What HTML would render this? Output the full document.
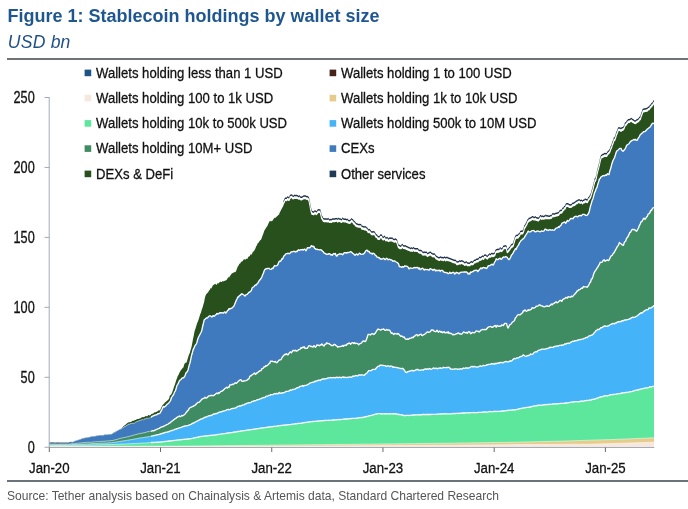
<!DOCTYPE html>
<html><head><meta charset="utf-8"><title>Figure 1: Stablecoin holdings by wallet size</title>
<style>
html,body{margin:0;padding:0;background:#fff;}
body{width:688px;height:509px;position:relative;overflow:hidden;font-family:"Liberation Sans",Arial,sans-serif;}
.title{position:absolute;left:7.4px;top:5px;font-size:18px;font-weight:bold;color:#1e5790;white-space:nowrap;line-height:22px;}
.sub{position:absolute;left:7.8px;top:31px;font-size:17.6px;letter-spacing:0.2px;font-style:italic;color:#1f4f86;white-space:nowrap;line-height:22px;}
.rule1{position:absolute;left:7px;right:0;top:58px;height:2px;background:#6f7378;}
.rule2{position:absolute;left:7px;right:0;top:480px;height:2px;background:#6a737c;}
.src{position:absolute;left:7px;top:487.5px;font-size:12.05px;color:#555;white-space:nowrap;line-height:16px;}
</style></head><body>
<svg width="688" height="509" viewBox="0 0 688 509" style="position:absolute;left:0;top:0">
<rect width="688" height="509" fill="#fff"/>
<path d="M49.0,443.2 L49.8,443.2 L50.6,443.2 L51.4,443.1 L52.2,443.2 L53.0,443.1 L53.8,443.2 L54.6,443.2 L55.4,443.2 L56.2,443.2 L57.0,443.3 L57.8,443.1 L58.6,443.2 L59.4,443.2 L60.2,443.2 L61.0,443.2 L61.8,443.2 L62.6,443.2 L63.4,443.2 L64.2,443.2 L65.0,443.2 L65.8,443.2 L66.6,443.2 L67.4,443.2 L68.2,443.3 L69.0,443.2 L69.8,442.9 L70.6,442.6 L71.4,442.3 L72.2,442.1 L73.0,441.7 L73.8,441.4 L74.6,441.1 L75.4,440.8 L76.2,440.5 L77.0,440.3 L77.8,440.0 L78.6,439.7 L79.4,439.6 L80.2,439.3 L81.0,439.0 L81.8,438.6 L82.6,438.3 L83.4,438.2 L84.2,438.0 L85.0,437.7 L85.8,437.6 L86.6,437.6 L87.4,437.4 L88.2,437.3 L89.0,437.1 L89.8,436.9 L90.6,436.6 L91.4,436.4 L92.2,436.3 L93.0,436.3 L93.8,436.2 L94.6,436.1 L95.4,435.9 L96.2,435.8 L97.0,435.5 L97.8,435.5 L98.6,435.4 L99.4,435.2 L100.2,435.2 L101.0,435.1 L101.8,435.1 L102.6,435.2 L103.4,435.1 L104.2,434.8 L105.0,434.6 L105.8,434.5 L106.6,434.5 L107.4,434.6 L108.2,434.5 L109.0,434.2 L109.8,434.1 L110.6,434.3 L111.4,434.0 L112.2,433.7 L113.0,433.1 L113.8,432.6 L114.6,432.2 L115.4,431.8 L116.2,431.3 L117.0,430.9 L117.8,430.3 L118.6,429.9 L119.4,429.4 L120.2,429.1 L121.0,428.7 L121.8,428.0 L122.6,427.2 L123.4,426.3 L124.2,425.8 L125.0,425.1 L125.8,424.4 L126.6,423.7 L127.4,423.0 L128.2,422.6 L129.0,422.2 L129.8,422.2 L130.6,421.9 L131.4,421.7 L132.2,421.0 L133.0,420.8 L133.8,420.8 L134.6,420.2 L135.4,419.9 L136.2,419.7 L137.0,419.1 L137.8,419.1 L138.6,419.1 L139.4,418.5 L140.2,418.4 L141.0,417.8 L141.8,417.6 L142.6,416.9 L143.4,417.2 L144.2,417.0 L145.0,416.6 L145.8,416.0 L146.6,416.2 L147.4,416.3 L148.2,415.1 L149.0,415.3 L149.8,415.4 L150.6,414.9 L151.4,413.9 L152.2,413.9 L153.0,413.5 L153.8,412.9 L154.6,412.2 L155.4,412.2 L156.2,412.1 L157.0,411.4 L157.8,411.2 L158.6,410.3 L159.4,410.4 L160.2,410.0 L161.0,408.2 L161.8,406.4 L162.6,405.0 L163.4,404.2 L164.2,403.5 L165.0,402.6 L165.8,401.7 L166.6,401.2 L167.4,400.4 L168.2,399.8 L169.0,398.7 L169.8,395.8 L170.6,394.9 L171.4,394.3 L172.2,392.2 L173.0,389.9 L173.8,387.5 L174.6,385.2 L175.4,383.1 L176.2,380.2 L177.0,378.2 L177.8,376.0 L178.6,374.7 L179.4,372.8 L180.2,371.4 L181.0,369.9 L181.8,369.2 L182.6,367.9 L183.4,367.5 L184.2,364.6 L185.0,363.1 L185.8,362.7 L186.6,362.5 L187.4,359.8 L188.2,357.1 L189.0,354.4 L189.8,352.9 L190.6,350.0 L191.4,347.4 L192.2,343.4 L193.0,339.0 L193.8,335.6 L194.6,331.1 L195.4,328.9 L196.2,326.3 L197.0,323.5 L197.8,321.8 L198.6,319.6 L199.4,317.1 L200.2,314.3 L201.0,312.4 L201.8,309.5 L202.6,307.4 L203.4,304.6 L204.2,301.7 L205.0,297.3 L205.8,295.0 L206.6,293.7 L207.4,293.0 L208.2,292.3 L209.0,290.5 L209.8,289.9 L210.6,288.1 L211.4,288.6 L212.2,286.8 L213.0,285.3 L213.8,284.7 L214.6,284.2 L215.4,283.8 L216.2,285.0 L217.0,284.2 L217.8,282.9 L218.6,283.5 L219.4,282.6 L220.2,281.5 L221.0,282.0 L221.8,281.9 L222.6,281.0 L223.4,281.4 L224.2,280.7 L225.0,281.0 L225.8,280.3 L226.6,279.9 L227.4,278.8 L228.2,276.9 L229.0,277.8 L229.8,276.2 L230.6,275.2 L231.4,274.0 L232.2,273.3 L233.0,272.9 L233.8,272.4 L234.6,272.0 L235.4,272.2 L236.2,270.7 L237.0,268.4 L237.8,266.6 L238.6,265.4 L239.4,263.7 L240.2,263.5 L241.0,262.1 L241.8,261.5 L242.6,261.2 L243.4,259.8 L244.2,259.2 L245.0,259.5 L245.8,259.4 L246.6,258.4 L247.4,259.0 L248.2,257.1 L249.0,256.5 L249.8,255.9 L250.6,254.3 L251.4,254.8 L252.2,253.6 L253.0,251.4 L253.8,251.5 L254.6,250.0 L255.4,248.4 L256.2,246.3 L257.0,245.2 L257.8,243.0 L258.6,242.7 L259.4,241.3 L260.2,240.3 L261.0,239.8 L261.8,237.7 L262.6,235.6 L263.4,233.5 L264.2,230.9 L265.0,229.5 L265.8,228.3 L266.6,227.0 L267.4,226.0 L268.2,223.9 L269.0,222.4 L269.8,220.8 L270.6,221.2 L271.4,220.1 L272.2,220.1 L273.0,218.5 L273.8,217.5 L274.6,217.0 L275.4,217.0 L276.2,216.1 L277.0,215.4 L277.8,214.6 L278.6,213.9 L279.4,211.6 L280.2,210.3 L281.0,208.6 L281.8,207.1 L282.6,205.8 L283.4,203.6 L284.2,202.1 L285.0,200.3 L285.8,200.4 L286.6,200.6 L287.4,199.5 L288.2,199.7 L289.0,200.4 L289.8,198.5 L290.6,197.9 L291.4,197.5 L292.2,197.7 L293.0,198.9 L293.8,198.5 L294.6,197.9 L295.4,198.3 L296.2,197.7 L297.0,198.4 L297.8,198.4 L298.6,199.1 L299.4,198.3 L300.2,199.5 L301.0,199.7 L301.8,199.7 L302.6,199.2 L303.4,198.6 L304.2,198.3 L305.0,198.6 L305.8,198.5 L306.6,199.2 L307.4,198.9 L308.2,199.8 L309.0,200.5 L309.8,204.1 L310.6,208.9 L311.4,212.3 L312.2,214.4 L313.0,214.3 L313.8,214.7 L314.6,213.6 L315.4,213.6 L316.2,214.5 L317.0,213.8 L317.8,212.5 L318.6,212.4 L319.4,212.4 L320.2,212.4 L321.0,215.1 L321.8,218.6 L322.6,219.7 L323.4,221.3 L324.2,221.5 L325.0,221.6 L325.8,221.5 L326.6,221.5 L327.4,221.8 L328.2,221.0 L329.0,222.0 L329.8,222.4 L330.6,222.0 L331.4,222.4 L332.2,221.6 L333.0,221.3 L333.8,221.6 L334.6,221.6 L335.4,221.4 L336.2,221.1 L337.0,221.1 L337.8,222.0 L338.6,220.7 L339.4,221.4 L340.2,221.5 L341.0,222.1 L341.8,222.3 L342.6,220.5 L343.4,221.4 L344.2,221.8 L345.0,221.9 L345.8,221.6 L346.6,222.3 L347.4,221.9 L348.2,223.1 L349.0,222.9 L349.8,223.3 L350.6,222.5 L351.4,221.2 L352.2,222.0 L353.0,222.5 L353.8,223.9 L354.6,224.3 L355.4,225.3 L356.2,226.4 L357.0,226.6 L357.8,226.9 L358.6,227.1 L359.4,226.9 L360.2,227.2 L361.0,227.0 L361.8,229.0 L362.6,228.8 L363.4,229.4 L364.2,229.0 L365.0,230.0 L365.8,229.1 L366.6,230.4 L367.4,230.7 L368.2,232.6 L369.0,231.8 L369.8,232.4 L370.6,233.2 L371.4,234.5 L372.2,234.4 L373.0,234.9 L373.8,234.0 L374.6,234.6 L375.4,236.0 L376.2,237.4 L377.0,237.5 L377.8,239.0 L378.6,239.3 L379.4,239.3 L380.2,237.6 L381.0,237.5 L381.8,237.8 L382.6,239.4 L383.4,239.9 L384.2,238.8 L385.0,239.3 L385.8,240.8 L386.6,240.4 L387.4,239.9 L388.2,241.5 L389.0,241.1 L389.8,240.6 L390.6,240.9 L391.4,240.8 L392.2,240.6 L393.0,241.5 L393.8,241.9 L394.6,242.0 L395.4,241.5 L396.2,242.1 L397.0,242.9 L397.8,245.4 L398.6,247.7 L399.4,248.0 L400.2,248.6 L401.0,248.6 L401.8,247.3 L402.6,246.9 L403.4,248.4 L404.2,248.3 L405.0,248.8 L405.8,248.4 L406.6,249.4 L407.4,249.2 L408.2,250.3 L409.0,249.8 L409.8,250.7 L410.6,251.0 L411.4,250.3 L412.2,251.3 L413.0,250.6 L413.8,250.4 L414.6,251.3 L415.4,251.1 L416.2,251.1 L417.0,251.4 L417.8,251.2 L418.6,252.5 L419.4,253.0 L420.2,253.0 L421.0,253.1 L421.8,253.6 L422.6,254.8 L423.4,255.0 L424.2,254.4 L425.0,255.0 L425.8,254.9 L426.6,254.9 L427.4,256.3 L428.2,255.8 L429.0,255.5 L429.8,254.6 L430.6,254.8 L431.4,255.8 L432.2,255.9 L433.0,256.9 L433.8,256.5 L434.6,256.6 L435.4,257.7 L436.2,258.9 L437.0,259.1 L437.8,259.7 L438.6,260.1 L439.4,260.4 L440.2,259.6 L441.0,259.6 L441.8,260.2 L442.6,260.0 L443.4,260.6 L444.2,259.7 L445.0,259.8 L445.8,260.8 L446.6,259.8 L447.4,260.0 L448.2,260.7 L449.0,260.4 L449.8,261.1 L450.6,261.2 L451.4,261.6 L452.2,262.0 L453.0,262.5 L453.8,262.4 L454.6,262.9 L455.4,262.8 L456.2,263.6 L457.0,264.7 L457.8,264.3 L458.6,264.2 L459.4,263.3 L460.2,264.0 L461.0,263.4 L461.8,263.2 L462.6,263.9 L463.4,264.1 L464.2,264.8 L465.0,265.4 L465.8,264.5 L466.6,264.5 L467.4,265.5 L468.2,265.6 L469.0,265.5 L469.8,265.7 L470.6,264.5 L471.4,264.4 L472.2,264.7 L473.0,264.5 L473.8,263.3 L474.6,262.7 L475.4,262.6 L476.2,262.0 L477.0,261.5 L477.8,261.8 L478.6,261.1 L479.4,259.8 L480.2,260.2 L481.0,259.9 L481.8,259.3 L482.6,258.4 L483.4,259.4 L484.2,257.9 L485.0,257.6 L485.8,257.5 L486.6,258.5 L487.4,259.0 L488.2,257.6 L489.0,257.4 L489.8,256.3 L490.6,257.1 L491.4,255.9 L492.2,256.0 L493.0,256.6 L493.8,256.0 L494.6,255.8 L495.4,253.3 L496.2,252.2 L497.0,252.4 L497.8,251.7 L498.6,252.1 L499.4,251.7 L500.2,249.9 L501.0,251.5 L501.8,251.2 L502.6,250.5 L503.4,248.8 L504.2,248.7 L505.0,248.2 L505.8,248.4 L506.6,249.0 L507.4,252.5 L508.2,251.8 L509.0,250.6 L509.8,249.6 L510.6,248.4 L511.4,247.3 L512.2,247.1 L513.0,246.4 L513.8,243.5 L514.6,240.7 L515.4,238.8 L516.2,238.2 L517.0,237.5 L517.8,238.1 L518.6,236.6 L519.4,236.1 L520.2,234.1 L521.0,233.9 L521.8,233.7 L522.6,233.7 L523.4,232.0 L524.2,228.8 L525.0,227.7 L525.8,226.2 L526.6,224.9 L527.4,222.7 L528.2,222.0 L529.0,220.7 L529.8,221.0 L530.6,220.2 L531.4,220.0 L532.2,219.2 L533.0,219.3 L533.8,219.9 L534.6,219.9 L535.4,219.1 L536.2,220.4 L537.0,220.3 L537.8,220.7 L538.6,220.7 L539.4,219.7 L540.2,218.3 L541.0,218.1 L541.8,219.3 L542.6,218.5 L543.4,219.1 L544.2,218.5 L545.0,218.8 L545.8,217.5 L546.6,218.5 L547.4,218.3 L548.2,218.7 L549.0,218.5 L549.8,218.6 L550.6,218.1 L551.4,218.2 L552.2,216.7 L553.0,216.0 L553.8,216.7 L554.6,216.4 L555.4,216.1 L556.2,215.8 L557.0,215.9 L557.8,215.2 L558.6,215.3 L559.4,213.8 L560.2,213.0 L561.0,213.0 L561.8,212.8 L562.6,210.9 L563.4,210.7 L564.2,209.1 L565.0,208.9 L565.8,206.8 L566.6,206.2 L567.4,206.2 L568.2,206.2 L569.0,207.2 L569.8,207.2 L570.6,207.4 L571.4,207.1 L572.2,206.2 L573.0,205.4 L573.8,205.7 L574.6,205.1 L575.4,204.6 L576.2,203.5 L577.0,203.7 L577.8,202.6 L578.6,202.5 L579.4,202.4 L580.2,203.2 L581.0,202.9 L581.8,202.8 L582.6,203.7 L583.4,202.7 L584.2,202.9 L585.0,201.5 L585.8,202.0 L586.6,202.3 L587.4,202.6 L588.2,200.6 L589.0,199.6 L589.8,198.6 L590.6,197.0 L591.4,194.2 L592.2,191.5 L593.0,188.8 L593.8,185.2 L594.6,181.8 L595.4,181.0 L596.2,178.3 L597.0,173.9 L597.8,170.9 L598.6,167.9 L599.4,164.5 L600.2,160.6 L601.0,158.1 L601.8,157.7 L602.6,157.1 L603.4,156.9 L604.2,156.4 L605.0,156.0 L605.8,156.3 L606.6,156.4 L607.4,154.7 L608.2,154.1 L609.0,153.3 L609.8,152.0 L610.6,149.5 L611.4,148.0 L612.2,145.1 L613.0,143.4 L613.8,140.9 L614.6,140.4 L615.4,138.2 L616.2,135.5 L617.0,133.8 L617.8,131.5 L618.6,130.2 L619.4,130.4 L620.2,130.5 L621.0,131.2 L621.8,130.3 L622.6,130.3 L623.4,129.7 L624.2,128.1 L625.0,125.6 L625.8,125.5 L626.6,124.0 L627.4,123.4 L628.2,122.2 L629.0,122.3 L629.8,122.0 L630.6,121.5 L631.4,121.0 L632.2,121.7 L633.0,122.4 L633.8,122.7 L634.6,123.4 L635.4,123.5 L636.2,123.1 L637.0,122.1 L637.8,122.1 L638.6,121.3 L639.4,120.0 L640.2,119.6 L641.0,116.8 L641.8,114.7 L642.6,112.2 L643.4,111.9 L644.2,111.8 L645.0,111.2 L645.8,111.4 L646.6,111.1 L647.4,110.9 L648.2,109.6 L649.0,109.7 L649.8,108.3 L650.6,107.8 L651.4,106.4 L652.2,105.9 L653.0,104.6 L653.8,103.3 L654.0,103.8 L654.0,447.0 L49.0,447.0 Z" fill="#27501c"/>
<path d="M270.6,221.2 L271.4,220.1 L272.2,220.1 L273.0,218.5 L273.8,217.5 L274.6,217.0 L275.4,217.0 L276.2,216.1 L277.0,215.4 L277.8,214.6 L278.6,213.9 L279.4,211.6 L280.2,210.3 L281.0,208.6 L281.8,207.1 L282.6,205.8 L283.4,203.6 L284.2,202.1 L285.0,200.3 L285.8,200.4 L286.6,200.6 L287.4,199.5 L288.2,199.7 L289.0,200.4 L289.8,198.5 L290.6,197.9 L291.4,197.5 L292.2,197.7 L293.0,198.9 L293.8,198.5 L294.6,197.9 L295.4,198.3 L296.2,197.7 L297.0,198.4 L297.8,198.4 L298.6,199.1 L299.4,198.3 L300.2,199.5 L301.0,199.7 L301.8,199.7 L302.6,199.2 L303.4,198.6 L304.2,198.3 L305.0,198.6 L305.8,198.5 L306.6,199.2 L307.4,198.9 L308.2,199.8 L309.0,200.5 L309.8,204.1 L310.6,208.9 L311.4,212.3 L312.2,214.4 L313.0,214.3 L313.8,214.7 L314.6,213.6 L315.4,213.6 L316.2,214.5 L317.0,213.8 L317.8,212.5 L318.6,212.4 L319.4,212.4 L320.2,212.4 L321.0,215.1 L321.8,218.6 L322.6,219.7 L323.4,221.3 L324.2,221.5 L325.0,221.6 L325.8,221.5 L326.6,221.5 L327.4,221.8 L328.2,221.0 L329.0,222.0 L329.8,222.4 L330.6,222.0 L331.4,222.4 L332.2,221.6 L333.0,221.3 L333.8,221.6 L334.6,221.6 L335.4,221.4 L336.2,221.1 L337.0,221.1 L337.8,222.0 L338.6,220.7 L339.4,221.4 L340.2,221.5 L341.0,222.1 L341.8,222.3 L342.6,220.5 L343.4,221.4 L344.2,221.8 L345.0,221.9 L345.8,221.6 L346.6,222.3 L347.4,221.9 L348.2,223.1 L349.0,222.9 L349.8,223.3 L350.6,222.5 L351.4,221.2 L352.2,222.0 L353.0,222.5 L353.8,223.9 L354.6,224.3 L355.4,225.3 L356.2,226.4 L357.0,226.6 L357.8,226.9 L358.6,227.1 L359.4,226.9 L360.2,227.2 L361.0,227.0 L361.8,229.0 L362.6,228.8 L363.4,229.4 L364.2,229.0 L365.0,230.0 L365.8,229.1 L366.6,230.4 L367.4,230.7 L368.2,232.6 L369.0,231.8 L369.8,232.4 L370.6,233.2 L371.4,234.5 L372.2,234.4 L373.0,234.9 L373.8,234.0 L374.6,234.6 L375.4,236.0 L376.2,237.4 L377.0,237.5 L377.8,239.0 L378.6,239.3 L379.4,239.3 L380.2,237.6 L381.0,237.5 L381.8,237.8 L382.6,239.4 L383.4,239.9 L384.2,238.8 L385.0,239.3 L385.8,240.8 L386.6,240.4 L387.4,239.9 L388.2,241.5 L389.0,241.1 L389.8,240.6 L390.6,240.9 L391.4,240.8 L392.2,240.6 L393.0,241.5 L393.8,241.9 L394.6,242.0 L395.4,241.5 L396.2,242.1 L397.0,242.9 L397.8,245.4 L398.6,247.7 L399.4,248.0 L400.2,248.6 L401.0,248.6 L401.8,247.3 L402.6,246.9 L403.4,248.4 L404.2,248.3 L405.0,248.8 L405.8,248.4 L406.6,249.4 L407.4,249.2 L408.2,250.3 L409.0,249.8 L409.8,250.7 L410.6,251.0 L411.4,250.3 L412.2,251.3 L413.0,250.6 L413.8,250.4 L414.6,251.3 L415.4,251.1 L416.2,251.1 L417.0,251.4 L417.8,251.2 L418.6,252.5 L419.4,253.0 L420.2,253.0 L421.0,253.1 L421.8,253.6 L422.6,254.8 L423.4,255.0 L424.2,254.4 L425.0,255.0 L425.8,254.9 L426.6,254.9 L427.4,256.3 L428.2,255.8 L429.0,255.5 L429.8,254.6 L430.6,254.8 L431.4,255.8 L432.2,255.9 L433.0,256.9 L433.8,256.5 L434.6,256.6 L435.4,257.7 L436.2,258.9 L437.0,259.1 L437.8,259.7 L438.6,260.1 L439.4,260.4 L440.2,259.6 L441.0,259.6 L441.8,260.2 L442.6,260.0 L443.4,260.6 L444.2,259.7 L445.0,259.8 L445.8,260.8 L446.6,259.8 L447.4,260.0 L448.2,260.7 L449.0,260.4 L449.8,261.1 L450.6,261.2 L451.4,261.6 L452.2,262.0 L453.0,262.5 L453.8,262.4 L454.6,262.9 L455.4,262.8 L456.2,263.6 L457.0,264.7 L457.8,264.3 L458.6,264.2 L459.4,263.3 L460.2,264.0 L461.0,263.4 L461.8,263.2 L462.6,263.9 L463.4,264.1 L464.2,264.8 L465.0,265.4 L465.8,264.5 L466.6,264.5 L467.4,265.5 L468.2,265.6 L469.0,265.5 L469.8,265.7 L470.6,264.5 L471.4,264.4 L472.2,264.7 L473.0,264.5 L473.8,263.3 L474.6,262.7 L475.4,262.6 L476.2,262.0 L477.0,261.5 L477.8,261.8 L478.6,261.1 L479.4,259.8 L480.2,260.2 L481.0,259.9 L481.8,259.3 L482.6,258.4 L483.4,259.4 L484.2,257.9 L485.0,257.6 L485.8,257.5 L486.6,258.5 L487.4,259.0 L488.2,257.6 L489.0,257.4 L489.8,256.3 L490.6,257.1 L491.4,255.9 L492.2,256.0 L493.0,256.6 L493.8,256.0 L494.6,255.8 L495.4,253.3 L496.2,252.2 L497.0,252.4 L497.8,251.7 L498.6,252.1 L499.4,251.7 L500.2,249.9 L501.0,251.5 L501.8,251.2 L502.6,250.5 L503.4,248.8 L504.2,248.7 L505.0,248.2 L505.8,248.4 L506.6,249.0 L507.4,252.5 L508.2,251.8 L509.0,250.6 L509.8,249.6 L510.6,248.4 L511.4,247.3 L512.2,247.1 L513.0,246.4 L513.8,243.5 L514.6,240.7 L515.4,238.8 L516.2,238.2 L517.0,237.5 L517.8,238.1 L518.6,236.6 L519.4,236.1 L520.2,234.1 L521.0,233.9 L521.8,233.7 L522.6,233.7 L523.4,232.0 L524.2,228.8 L525.0,227.7 L525.8,226.2 L526.6,224.9 L527.4,222.7 L528.2,222.0 L529.0,220.7 L529.8,221.0 L530.6,220.2 L531.4,220.0 L532.2,219.2 L533.0,219.3 L533.8,219.9 L534.6,219.9 L535.4,219.1 L536.2,220.4 L537.0,220.3 L537.8,220.7 L538.6,220.7 L539.4,219.7 L540.2,218.3 L541.0,218.1 L541.8,219.3 L542.6,218.5 L543.4,219.1 L544.2,218.5 L545.0,218.8 L545.8,217.5 L546.6,218.5 L547.4,218.3 L548.2,218.7 L549.0,218.5 L549.8,218.6 L550.6,218.1 L551.4,218.2 L552.2,216.7 L553.0,216.0 L553.8,216.7 L554.6,216.4 L555.4,216.1 L556.2,215.8 L557.0,215.9 L557.8,215.2 L558.6,215.3 L559.4,213.8 L560.2,213.0 L561.0,213.0 L561.8,212.8 L562.6,210.9 L563.4,210.7 L564.2,209.1 L565.0,208.9 L565.8,206.8 L566.6,206.2 L567.4,206.2 L568.2,206.2 L569.0,207.2 L569.8,207.2 L570.6,207.4 L571.4,207.1 L572.2,206.2 L573.0,205.4 L573.8,205.7 L574.6,205.1 L575.4,204.6 L576.2,203.5 L577.0,203.7 L577.8,202.6 L578.6,202.5 L579.4,202.4 L580.2,203.2 L581.0,202.9 L581.8,202.8 L582.6,203.7 L583.4,202.7 L584.2,202.9 L585.0,201.5 L585.8,202.0 L586.6,202.3 L587.4,202.6 L588.2,200.6 L589.0,199.6 L589.8,198.6 L590.6,197.0 L591.4,194.2 L592.2,191.5 L593.0,188.8 L593.8,185.2 L594.6,181.8 L595.4,181.0 L596.2,178.3 L597.0,173.9 L597.8,170.9 L598.6,167.9 L599.4,164.5 L600.2,160.6 L601.0,158.1 L601.8,157.7 L602.6,157.1 L603.4,156.9 L604.2,156.4 L605.0,156.0 L605.8,156.3 L606.6,156.4 L607.4,154.7 L608.2,154.1 L609.0,153.3 L609.8,152.0 L610.6,149.5 L611.4,148.0 L612.2,145.1 L613.0,143.4 L613.8,140.9 L614.6,140.4 L615.4,138.2 L616.2,135.5 L617.0,133.8 L617.8,131.5 L618.6,130.2 L619.4,130.4 L620.2,130.5 L621.0,131.2 L621.8,130.3 L622.6,130.3 L623.4,129.7 L624.2,128.1 L625.0,125.6 L625.8,125.5 L626.6,124.0 L627.4,123.4 L628.2,122.2 L629.0,122.3 L629.8,122.0 L630.6,121.5 L631.4,121.0 L632.2,121.7 L633.0,122.4 L633.8,122.7 L634.6,123.4 L635.4,123.5 L636.2,123.1 L637.0,122.1 L637.8,122.1 L638.6,121.3 L639.4,120.0 L640.2,119.6 L641.0,116.8 L641.8,114.7 L642.6,112.2 L643.4,111.9 L644.2,111.8 L645.0,111.2 L645.8,111.4 L646.6,111.1 L647.4,110.9 L648.2,109.6 L649.0,109.7 L649.8,108.3 L650.6,107.8 L651.4,106.4 L652.2,105.9 L653.0,104.6 L653.8,103.3 L654.0,103.8" fill="none" stroke="#fff" stroke-width="1.35" stroke-linejoin="round"/>
<path d="M49.0,443.2 L49.8,443.2 L50.6,443.2 L51.4,443.1 L52.2,443.2 L53.0,443.1 L53.8,443.2 L54.6,443.2 L55.4,443.2 L56.2,443.2 L57.0,443.3 L57.8,443.1 L58.6,443.2 L59.4,443.2 L60.2,443.2 L61.0,443.2 L61.8,443.2 L62.6,443.2 L63.4,443.2 L64.2,443.2 L65.0,443.2 L65.8,443.2 L66.6,443.2 L67.4,443.2 L68.2,443.3 L69.0,443.2 L69.8,442.9 L70.6,442.6 L71.4,442.3 L72.2,442.1 L73.0,441.7 L73.8,441.4 L74.6,441.1 L75.4,440.8 L76.2,440.5 L77.0,440.3 L77.8,440.0 L78.6,439.7 L79.4,439.6 L80.2,439.3 L81.0,439.0 L81.8,438.6 L82.6,438.3 L83.4,438.2 L84.2,438.0 L85.0,437.7 L85.8,437.6 L86.6,437.6 L87.4,437.4 L88.2,437.3 L89.0,437.1 L89.8,436.9 L90.6,436.6 L91.4,436.4 L92.2,436.3 L93.0,436.3 L93.8,436.2 L94.6,436.1 L95.4,435.9 L96.2,435.8 L97.0,435.5 L97.8,435.5 L98.6,435.4 L99.4,435.2 L100.2,435.2 L101.0,435.1 L101.8,435.1 L102.6,435.2 L103.4,435.1 L104.2,434.8 L105.0,434.6 L105.8,434.5 L106.6,434.5 L107.4,434.6 L108.2,434.5 L109.0,434.2 L109.8,434.1 L110.6,434.3 L111.4,434.0 L112.2,433.7 L113.0,433.1 L113.8,432.6 L114.6,432.2 L115.4,431.8 L116.2,431.3 L117.0,430.9 L117.8,430.3 L118.6,429.9 L119.4,429.5 L120.2,429.2 L121.0,428.9 L121.8,428.5 L122.6,427.9 L123.4,427.7 L124.2,426.7 L125.0,426.5 L125.8,426.1 L126.6,425.5 L127.4,425.3 L128.2,424.1 L129.0,424.3 L129.8,424.1 L130.6,423.5 L131.4,423.5 L132.2,423.1 L133.0,423.5 L133.8,423.3 L134.6,423.0 L135.4,422.3 L136.2,421.9 L137.0,421.6 L137.8,421.2 L138.6,420.8 L139.4,420.6 L140.2,420.4 L141.0,420.1 L141.8,419.8 L142.6,419.4 L143.4,420.1 L144.2,419.2 L145.0,418.7 L145.8,418.7 L146.6,418.3 L147.4,418.3 L148.2,418.2 L149.0,418.2 L149.8,417.9 L150.6,417.1 L151.4,417.1 L152.2,416.2 L153.0,416.0 L153.8,415.7 L154.6,415.1 L155.4,415.1 L156.2,414.7 L157.0,414.7 L157.8,413.7 L158.6,413.7 L159.4,413.5 L160.2,413.0 L161.0,411.1 L161.8,409.8 L162.6,407.9 L163.4,406.4 L164.2,407.1 L165.0,406.5 L165.8,405.9 L166.6,404.8 L167.4,404.1 L168.2,403.5 L169.0,402.7 L169.8,401.7 L170.6,400.5 L171.4,397.7 L172.2,396.7 L173.0,395.3 L173.8,394.1 L174.6,391.9 L175.4,390.9 L176.2,388.2 L177.0,385.4 L177.8,384.3 L178.6,382.6 L179.4,380.7 L180.2,380.0 L181.0,379.5 L181.8,378.4 L182.6,377.8 L183.4,377.9 L184.2,377.1 L185.0,375.9 L185.8,373.2 L186.6,372.3 L187.4,371.5 L188.2,369.4 L189.0,365.9 L189.8,363.5 L190.6,360.2 L191.4,356.1 L192.2,353.3 L193.0,350.1 L193.8,348.4 L194.6,346.4 L195.4,345.2 L196.2,344.1 L197.0,342.2 L197.8,339.0 L198.6,337.0 L199.4,335.5 L200.2,334.0 L201.0,332.5 L201.8,330.6 L202.6,326.5 L203.4,323.3 L204.2,319.9 L205.0,319.3 L205.8,318.5 L206.6,317.9 L207.4,317.9 L208.2,317.1 L209.0,316.1 L209.8,315.9 L210.6,315.9 L211.4,316.9 L212.2,316.9 L213.0,315.7 L213.8,316.0 L214.6,316.1 L215.4,314.9 L216.2,314.7 L217.0,313.4 L217.8,314.0 L218.6,313.7 L219.4,312.9 L220.2,312.7 L221.0,313.1 L221.8,312.7 L222.6,312.9 L223.4,313.1 L224.2,312.2 L225.0,311.9 L225.8,313.2 L226.6,312.2 L227.4,310.7 L228.2,310.1 L229.0,308.6 L229.8,309.1 L230.6,308.5 L231.4,308.4 L232.2,307.9 L233.0,307.0 L233.8,306.3 L234.6,304.5 L235.4,302.4 L236.2,300.4 L237.0,299.0 L237.8,296.9 L238.6,297.0 L239.4,295.5 L240.2,295.4 L241.0,294.4 L241.8,293.8 L242.6,294.1 L243.4,294.7 L244.2,295.2 L245.0,296.0 L245.8,294.9 L246.6,294.6 L247.4,294.2 L248.2,293.2 L249.0,292.3 L249.8,292.0 L250.6,291.3 L251.4,290.4 L252.2,287.8 L253.0,287.3 L253.8,286.8 L254.6,285.7 L255.4,284.9 L256.2,285.1 L257.0,283.8 L257.8,283.2 L258.6,281.6 L259.4,280.4 L260.2,279.6 L261.0,278.5 L261.8,277.1 L262.6,274.9 L263.4,273.3 L264.2,270.8 L265.0,269.3 L265.8,269.0 L266.6,268.7 L267.4,268.5 L268.2,268.3 L269.0,268.3 L269.8,269.0 L270.6,269.4 L271.4,269.1 L272.2,268.1 L273.0,268.6 L273.8,266.8 L274.6,265.5 L275.4,265.9 L276.2,265.8 L277.0,265.6 L277.8,264.8 L278.6,262.6 L279.4,261.2 L280.2,261.4 L281.0,260.8 L281.8,258.8 L282.6,259.0 L283.4,256.9 L284.2,255.6 L285.0,255.0 L285.8,253.9 L286.6,253.6 L287.4,253.5 L288.2,253.2 L289.0,253.7 L289.8,253.6 L290.6,252.4 L291.4,251.8 L292.2,251.9 L293.0,251.7 L293.8,251.2 L294.6,251.6 L295.4,252.0 L296.2,251.3 L297.0,251.7 L297.8,250.4 L298.6,249.7 L299.4,250.4 L300.2,250.0 L301.0,249.6 L301.8,249.8 L302.6,249.5 L303.4,250.0 L304.2,249.1 L305.0,249.2 L305.8,250.8 L306.6,249.8 L307.4,247.7 L308.2,247.9 L309.0,247.7 L309.8,247.9 L310.6,246.9 L311.4,245.7 L312.2,246.1 L313.0,246.7 L313.8,246.3 L314.6,248.3 L315.4,248.7 L316.2,249.5 L317.0,249.1 L317.8,249.6 L318.6,249.6 L319.4,249.8 L320.2,249.7 L321.0,249.8 L321.8,250.4 L322.6,251.3 L323.4,251.9 L324.2,253.2 L325.0,253.4 L325.8,253.8 L326.6,254.4 L327.4,254.2 L328.2,254.2 L329.0,253.6 L329.8,253.7 L330.6,254.8 L331.4,254.6 L332.2,255.3 L333.0,254.2 L333.8,253.4 L334.6,254.1 L335.4,253.5 L336.2,255.8 L337.0,256.1 L337.8,254.6 L338.6,254.3 L339.4,253.8 L340.2,254.0 L341.0,253.8 L341.8,254.2 L342.6,254.7 L343.4,253.8 L344.2,252.6 L345.0,252.9 L345.8,252.6 L346.6,253.1 L347.4,252.5 L348.2,252.7 L349.0,252.5 L349.8,252.0 L350.6,251.6 L351.4,252.0 L352.2,252.9 L353.0,253.5 L353.8,254.0 L354.6,255.1 L355.4,255.2 L356.2,254.0 L357.0,254.2 L357.8,255.0 L358.6,254.2 L359.4,253.1 L360.2,253.5 L361.0,254.4 L361.8,254.3 L362.6,254.1 L363.4,254.0 L364.2,253.2 L365.0,252.3 L365.8,250.8 L366.6,250.2 L367.4,250.5 L368.2,251.5 L369.0,251.3 L369.8,252.9 L370.6,253.2 L371.4,253.2 L372.2,254.2 L373.0,253.1 L373.8,253.5 L374.6,254.1 L375.4,255.5 L376.2,255.7 L377.0,257.2 L377.8,257.1 L378.6,257.8 L379.4,257.7 L380.2,259.0 L381.0,258.8 L381.8,259.2 L382.6,258.8 L383.4,258.3 L384.2,258.6 L385.0,259.7 L385.8,259.0 L386.6,258.3 L387.4,258.8 L388.2,259.8 L389.0,259.2 L389.8,259.3 L390.6,259.9 L391.4,259.9 L392.2,260.4 L393.0,261.2 L393.8,261.0 L394.6,260.9 L395.4,261.5 L396.2,262.0 L397.0,262.4 L397.8,263.1 L398.6,263.9 L399.4,266.7 L400.2,266.6 L401.0,266.9 L401.8,267.3 L402.6,266.5 L403.4,267.1 L404.2,266.7 L405.0,265.7 L405.8,266.2 L406.6,266.1 L407.4,266.5 L408.2,267.2 L409.0,268.9 L409.8,268.1 L410.6,267.9 L411.4,268.2 L412.2,268.3 L413.0,268.2 L413.8,267.6 L414.6,267.5 L415.4,267.8 L416.2,267.5 L417.0,267.6 L417.8,267.4 L418.6,268.8 L419.4,267.9 L420.2,269.6 L421.0,269.1 L421.8,268.5 L422.6,268.1 L423.4,269.2 L424.2,270.0 L425.0,269.2 L425.8,269.6 L426.6,269.6 L427.4,269.5 L428.2,269.8 L429.0,270.3 L429.8,269.0 L430.6,268.7 L431.4,269.2 L432.2,269.6 L433.0,270.4 L433.8,269.4 L434.6,269.3 L435.4,270.9 L436.2,270.1 L437.0,270.7 L437.8,270.4 L438.6,270.5 L439.4,270.1 L440.2,271.5 L441.0,270.3 L441.8,270.3 L442.6,270.4 L443.4,271.9 L444.2,272.2 L445.0,272.6 L445.8,272.5 L446.6,272.6 L447.4,272.9 L448.2,273.7 L449.0,273.4 L449.8,272.2 L450.6,273.2 L451.4,273.2 L452.2,272.4 L453.0,272.6 L453.8,272.3 L454.6,274.1 L455.4,273.5 L456.2,272.3 L457.0,272.9 L457.8,272.6 L458.6,273.7 L459.4,273.6 L460.2,272.3 L461.0,272.4 L461.8,272.1 L462.6,272.1 L463.4,272.1 L464.2,271.8 L465.0,272.2 L465.8,272.0 L466.6,271.9 L467.4,272.8 L468.2,274.1 L469.0,273.1 L469.8,274.1 L470.6,272.0 L471.4,272.4 L472.2,271.7 L473.0,271.6 L473.8,270.8 L474.6,270.5 L475.4,270.4 L476.2,270.2 L477.0,270.5 L477.8,271.6 L478.6,270.4 L479.4,269.9 L480.2,268.5 L481.0,267.9 L481.8,268.7 L482.6,267.8 L483.4,267.4 L484.2,267.6 L485.0,268.1 L485.8,267.8 L486.6,268.5 L487.4,267.4 L488.2,265.7 L489.0,265.8 L489.8,265.7 L490.6,264.9 L491.4,264.6 L492.2,264.1 L493.0,265.2 L493.8,264.1 L494.6,262.1 L495.4,261.1 L496.2,258.8 L497.0,259.4 L497.8,259.7 L498.6,258.9 L499.4,258.5 L500.2,258.2 L501.0,259.3 L501.8,259.0 L502.6,257.7 L503.4,256.9 L504.2,257.1 L505.0,257.1 L505.8,256.5 L506.6,257.0 L507.4,257.6 L508.2,259.0 L509.0,259.6 L509.8,258.7 L510.6,257.2 L511.4,255.1 L512.2,254.4 L513.0,253.1 L513.8,251.5 L514.6,250.4 L515.4,248.8 L516.2,249.3 L517.0,247.2 L517.8,246.1 L518.6,244.9 L519.4,242.9 L520.2,241.8 L521.0,240.6 L521.8,239.9 L522.6,239.1 L523.4,238.6 L524.2,237.9 L525.0,236.3 L525.8,235.0 L526.6,233.8 L527.4,232.5 L528.2,231.1 L529.0,231.9 L529.8,231.9 L530.6,231.9 L531.4,230.9 L532.2,230.7 L533.0,230.6 L533.8,230.5 L534.6,231.4 L535.4,231.9 L536.2,231.7 L537.0,230.9 L537.8,231.1 L538.6,231.2 L539.4,231.6 L540.2,231.8 L541.0,231.2 L541.8,231.0 L542.6,231.3 L543.4,231.2 L544.2,230.7 L545.0,229.1 L545.8,229.1 L546.6,230.0 L547.4,230.0 L548.2,230.5 L549.0,229.8 L549.8,229.7 L550.6,230.0 L551.4,230.1 L552.2,229.8 L553.0,230.1 L553.8,230.2 L554.6,230.1 L555.4,228.5 L556.2,228.1 L557.0,227.9 L557.8,227.7 L558.6,226.6 L559.4,227.2 L560.2,225.7 L561.0,225.3 L561.8,223.4 L562.6,222.8 L563.4,222.7 L564.2,221.9 L565.0,222.3 L565.8,223.3 L566.6,221.6 L567.4,220.4 L568.2,221.2 L569.0,220.7 L569.8,219.7 L570.6,218.4 L571.4,218.7 L572.2,218.4 L573.0,218.8 L573.8,217.4 L574.6,216.8 L575.4,216.4 L576.2,216.2 L577.0,216.8 L577.8,216.9 L578.6,216.0 L579.4,215.7 L580.2,215.4 L581.0,215.9 L581.8,215.4 L582.6,214.4 L583.4,214.3 L584.2,214.4 L585.0,214.9 L585.8,215.4 L586.6,215.5 L587.4,215.0 L588.2,214.0 L589.0,212.4 L589.8,209.1 L590.6,205.7 L591.4,203.1 L592.2,200.4 L593.0,198.7 L593.8,195.7 L594.6,192.6 L595.4,191.2 L596.2,188.6 L597.0,187.3 L597.8,184.2 L598.6,181.9 L599.4,179.0 L600.2,178.5 L601.0,176.9 L601.8,176.5 L602.6,175.9 L603.4,175.5 L604.2,175.9 L605.0,175.4 L605.8,174.9 L606.6,175.3 L607.4,173.7 L608.2,174.2 L609.0,174.6 L609.8,170.9 L610.6,168.8 L611.4,165.6 L612.2,162.7 L613.0,160.5 L613.8,159.0 L614.6,157.5 L615.4,154.9 L616.2,152.2 L617.0,150.8 L617.8,150.2 L618.6,149.7 L619.4,148.7 L620.2,148.3 L621.0,148.3 L621.8,150.3 L622.6,151.1 L623.4,151.0 L624.2,149.9 L625.0,149.1 L625.8,147.5 L626.6,145.5 L627.4,144.7 L628.2,144.2 L629.0,143.7 L629.8,142.5 L630.6,141.4 L631.4,140.9 L632.2,140.4 L633.0,140.1 L633.8,139.4 L634.6,139.9 L635.4,139.3 L636.2,140.3 L637.0,140.4 L637.8,138.9 L638.6,137.7 L639.4,136.6 L640.2,134.7 L641.0,134.1 L641.8,133.2 L642.6,133.0 L643.4,131.7 L644.2,131.6 L645.0,131.6 L645.8,130.6 L646.6,130.0 L647.4,128.9 L648.2,128.5 L649.0,127.8 L649.8,127.3 L650.6,126.3 L651.4,124.8 L652.2,123.6 L653.0,123.2 L653.8,123.3 L654.0,123.4 L654.0,447.0 L49.0,447.0 Z" fill="#3e7abd"/>
<path d="M49.0,443.2 L49.8,443.2 L50.6,443.2 L51.4,443.1 L52.2,443.2 L53.0,443.1 L53.8,443.2 L54.6,443.2 L55.4,443.2 L56.2,443.2 L57.0,443.3 L57.8,443.1 L58.6,443.2 L59.4,443.2 L60.2,443.2 L61.0,443.2 L61.8,443.2 L62.6,443.2 L63.4,443.2 L64.2,443.2 L65.0,443.2 L65.8,443.2 L66.6,443.2 L67.4,443.2 L68.2,443.3 L69.0,443.2 L69.8,442.9 L70.6,442.6 L71.4,442.3 L72.2,442.1 L73.0,441.7 L73.8,441.4 L74.6,441.1 L75.4,440.8 L76.2,440.5 L77.0,440.3 L77.8,440.0 L78.6,439.7 L79.4,439.6 L80.2,439.3 L81.0,439.0 L81.8,438.6 L82.6,438.3 L83.4,438.2 L84.2,438.0 L85.0,437.7 L85.8,437.6 L86.6,437.6 L87.4,437.4 L88.2,437.3 L89.0,437.1 L89.8,436.9 L90.6,436.6 L91.4,436.4 L92.2,436.3 L93.0,436.3 L93.8,436.2 L94.6,436.1 L95.4,435.9 L96.2,435.8 L97.0,435.5 L97.8,435.5 L98.6,435.4 L99.4,435.2 L100.2,435.2 L101.0,435.1 L101.8,435.1 L102.6,435.2 L103.4,435.1 L104.2,434.8 L105.0,434.6 L105.8,434.5 L106.6,434.5 L107.4,434.6 L108.2,434.5 L109.0,434.2 L109.8,434.1 L110.6,434.3 L111.4,434.0 L112.2,433.7 L113.0,433.1 L113.8,432.6 L114.6,432.2 L115.4,431.8 L116.2,431.3 L117.0,430.9 L117.8,430.3 L118.6,429.9 L119.4,429.5 L120.2,429.2 L121.0,428.9 L121.8,428.5 L122.6,427.9 L123.4,427.7 L124.2,426.7 L125.0,426.5 L125.8,426.1 L126.6,425.5 L127.4,425.3 L128.2,424.1 L129.0,424.3 L129.8,424.1 L130.6,423.5 L131.4,423.5 L132.2,423.1 L133.0,423.5 L133.8,423.3 L134.6,423.0 L135.4,422.3 L136.2,421.9 L137.0,421.6 L137.8,421.2 L138.6,420.8 L139.4,420.6 L140.2,420.4 L141.0,420.1 L141.8,419.8 L142.6,419.4 L143.4,420.1 L144.2,419.2 L145.0,418.7 L145.8,418.7 L146.6,418.3 L147.4,418.3 L148.2,418.2 L149.0,418.2 L149.8,417.9" fill="none" stroke="#fff" stroke-width="0.6" stroke-linejoin="round"/>
<path d="M150.6,417.1 L151.4,417.1 L152.2,416.2 L153.0,416.0 L153.8,415.7 L154.6,415.1 L155.4,415.1 L156.2,414.7 L157.0,414.7 L157.8,413.7 L158.6,413.7 L159.4,413.5 L160.2,413.0 L161.0,411.1 L161.8,409.8 L162.6,407.9 L163.4,406.4 L164.2,407.1 L165.0,406.5 L165.8,405.9 L166.6,404.8 L167.4,404.1 L168.2,403.5 L169.0,402.7 L169.8,401.7 L170.6,400.5 L171.4,397.7 L172.2,396.7 L173.0,395.3 L173.8,394.1 L174.6,391.9 L175.4,390.9 L176.2,388.2 L177.0,385.4 L177.8,384.3 L178.6,382.6 L179.4,380.7 L180.2,380.0 L181.0,379.5 L181.8,378.4 L182.6,377.8 L183.4,377.9 L184.2,377.1 L185.0,375.9 L185.8,373.2 L186.6,372.3 L187.4,371.5 L188.2,369.4 L189.0,365.9 L189.8,363.5 L190.6,360.2 L191.4,356.1 L192.2,353.3 L193.0,350.1 L193.8,348.4 L194.6,346.4 L195.4,345.2 L196.2,344.1 L197.0,342.2 L197.8,339.0 L198.6,337.0 L199.4,335.5 L200.2,334.0 L201.0,332.5 L201.8,330.6 L202.6,326.5 L203.4,323.3 L204.2,319.9 L205.0,319.3 L205.8,318.5 L206.6,317.9 L207.4,317.9 L208.2,317.1 L209.0,316.1 L209.8,315.9 L210.6,315.9 L211.4,316.9 L212.2,316.9 L213.0,315.7 L213.8,316.0 L214.6,316.1 L215.4,314.9 L216.2,314.7 L217.0,313.4 L217.8,314.0 L218.6,313.7 L219.4,312.9 L220.2,312.7 L221.0,313.1 L221.8,312.7 L222.6,312.9 L223.4,313.1 L224.2,312.2 L225.0,311.9 L225.8,313.2 L226.6,312.2 L227.4,310.7 L228.2,310.1 L229.0,308.6 L229.8,309.1 L230.6,308.5 L231.4,308.4 L232.2,307.9 L233.0,307.0 L233.8,306.3 L234.6,304.5 L235.4,302.4 L236.2,300.4 L237.0,299.0 L237.8,296.9 L238.6,297.0 L239.4,295.5 L240.2,295.4 L241.0,294.4 L241.8,293.8 L242.6,294.1 L243.4,294.7 L244.2,295.2 L245.0,296.0 L245.8,294.9 L246.6,294.6 L247.4,294.2 L248.2,293.2 L249.0,292.3 L249.8,292.0 L250.6,291.3 L251.4,290.4 L252.2,287.8 L253.0,287.3 L253.8,286.8 L254.6,285.7 L255.4,284.9 L256.2,285.1 L257.0,283.8 L257.8,283.2 L258.6,281.6 L259.4,280.4 L260.2,279.6 L261.0,278.5 L261.8,277.1 L262.6,274.9 L263.4,273.3 L264.2,270.8 L265.0,269.3 L265.8,269.0 L266.6,268.7 L267.4,268.5 L268.2,268.3 L269.0,268.3 L269.8,269.0 L270.6,269.4 L271.4,269.1 L272.2,268.1 L273.0,268.6 L273.8,266.8 L274.6,265.5 L275.4,265.9 L276.2,265.8 L277.0,265.6 L277.8,264.8 L278.6,262.6 L279.4,261.2 L280.2,261.4 L281.0,260.8 L281.8,258.8 L282.6,259.0 L283.4,256.9 L284.2,255.6 L285.0,255.0 L285.8,253.9 L286.6,253.6 L287.4,253.5 L288.2,253.2 L289.0,253.7 L289.8,253.6 L290.6,252.4 L291.4,251.8 L292.2,251.9 L293.0,251.7 L293.8,251.2 L294.6,251.6 L295.4,252.0 L296.2,251.3 L297.0,251.7 L297.8,250.4 L298.6,249.7 L299.4,250.4 L300.2,250.0 L301.0,249.6 L301.8,249.8 L302.6,249.5 L303.4,250.0 L304.2,249.1 L305.0,249.2 L305.8,250.8 L306.6,249.8 L307.4,247.7 L308.2,247.9 L309.0,247.7 L309.8,247.9 L310.6,246.9 L311.4,245.7 L312.2,246.1 L313.0,246.7 L313.8,246.3 L314.6,248.3 L315.4,248.7 L316.2,249.5 L317.0,249.1 L317.8,249.6 L318.6,249.6 L319.4,249.8 L320.2,249.7 L321.0,249.8 L321.8,250.4 L322.6,251.3 L323.4,251.9 L324.2,253.2 L325.0,253.4 L325.8,253.8 L326.6,254.4 L327.4,254.2 L328.2,254.2 L329.0,253.6 L329.8,253.7 L330.6,254.8 L331.4,254.6 L332.2,255.3 L333.0,254.2 L333.8,253.4 L334.6,254.1 L335.4,253.5 L336.2,255.8 L337.0,256.1 L337.8,254.6 L338.6,254.3 L339.4,253.8 L340.2,254.0 L341.0,253.8 L341.8,254.2 L342.6,254.7 L343.4,253.8 L344.2,252.6 L345.0,252.9 L345.8,252.6 L346.6,253.1 L347.4,252.5 L348.2,252.7 L349.0,252.5 L349.8,252.0 L350.6,251.6 L351.4,252.0 L352.2,252.9 L353.0,253.5 L353.8,254.0 L354.6,255.1 L355.4,255.2 L356.2,254.0 L357.0,254.2 L357.8,255.0 L358.6,254.2 L359.4,253.1 L360.2,253.5 L361.0,254.4 L361.8,254.3 L362.6,254.1 L363.4,254.0 L364.2,253.2 L365.0,252.3 L365.8,250.8 L366.6,250.2 L367.4,250.5 L368.2,251.5 L369.0,251.3 L369.8,252.9 L370.6,253.2 L371.4,253.2 L372.2,254.2 L373.0,253.1 L373.8,253.5 L374.6,254.1 L375.4,255.5 L376.2,255.7 L377.0,257.2 L377.8,257.1 L378.6,257.8 L379.4,257.7 L380.2,259.0 L381.0,258.8 L381.8,259.2 L382.6,258.8 L383.4,258.3 L384.2,258.6 L385.0,259.7 L385.8,259.0 L386.6,258.3 L387.4,258.8 L388.2,259.8 L389.0,259.2 L389.8,259.3 L390.6,259.9 L391.4,259.9 L392.2,260.4 L393.0,261.2 L393.8,261.0 L394.6,260.9 L395.4,261.5 L396.2,262.0 L397.0,262.4 L397.8,263.1 L398.6,263.9 L399.4,266.7 L400.2,266.6 L401.0,266.9 L401.8,267.3 L402.6,266.5 L403.4,267.1 L404.2,266.7 L405.0,265.7 L405.8,266.2 L406.6,266.1 L407.4,266.5 L408.2,267.2 L409.0,268.9 L409.8,268.1 L410.6,267.9 L411.4,268.2 L412.2,268.3 L413.0,268.2 L413.8,267.6 L414.6,267.5 L415.4,267.8 L416.2,267.5 L417.0,267.6 L417.8,267.4 L418.6,268.8 L419.4,267.9 L420.2,269.6 L421.0,269.1 L421.8,268.5 L422.6,268.1 L423.4,269.2 L424.2,270.0 L425.0,269.2 L425.8,269.6 L426.6,269.6 L427.4,269.5 L428.2,269.8 L429.0,270.3 L429.8,269.0 L430.6,268.7 L431.4,269.2 L432.2,269.6 L433.0,270.4 L433.8,269.4 L434.6,269.3 L435.4,270.9 L436.2,270.1 L437.0,270.7 L437.8,270.4 L438.6,270.5 L439.4,270.1 L440.2,271.5 L441.0,270.3 L441.8,270.3 L442.6,270.4 L443.4,271.9 L444.2,272.2 L445.0,272.6 L445.8,272.5 L446.6,272.6 L447.4,272.9 L448.2,273.7 L449.0,273.4 L449.8,272.2 L450.6,273.2 L451.4,273.2 L452.2,272.4 L453.0,272.6 L453.8,272.3 L454.6,274.1 L455.4,273.5 L456.2,272.3 L457.0,272.9 L457.8,272.6 L458.6,273.7 L459.4,273.6 L460.2,272.3 L461.0,272.4 L461.8,272.1 L462.6,272.1 L463.4,272.1 L464.2,271.8 L465.0,272.2 L465.8,272.0 L466.6,271.9 L467.4,272.8 L468.2,274.1 L469.0,273.1 L469.8,274.1 L470.6,272.0 L471.4,272.4 L472.2,271.7 L473.0,271.6 L473.8,270.8 L474.6,270.5 L475.4,270.4 L476.2,270.2 L477.0,270.5 L477.8,271.6 L478.6,270.4 L479.4,269.9 L480.2,268.5 L481.0,267.9 L481.8,268.7 L482.6,267.8 L483.4,267.4 L484.2,267.6 L485.0,268.1 L485.8,267.8 L486.6,268.5 L487.4,267.4 L488.2,265.7 L489.0,265.8 L489.8,265.7 L490.6,264.9 L491.4,264.6 L492.2,264.1 L493.0,265.2 L493.8,264.1 L494.6,262.1 L495.4,261.1 L496.2,258.8 L497.0,259.4 L497.8,259.7 L498.6,258.9 L499.4,258.5 L500.2,258.2 L501.0,259.3 L501.8,259.0 L502.6,257.7 L503.4,256.9 L504.2,257.1 L505.0,257.1 L505.8,256.5 L506.6,257.0 L507.4,257.6 L508.2,259.0 L509.0,259.6 L509.8,258.7 L510.6,257.2 L511.4,255.1 L512.2,254.4 L513.0,253.1 L513.8,251.5 L514.6,250.4 L515.4,248.8 L516.2,249.3 L517.0,247.2 L517.8,246.1 L518.6,244.9 L519.4,242.9 L520.2,241.8 L521.0,240.6 L521.8,239.9 L522.6,239.1 L523.4,238.6 L524.2,237.9 L525.0,236.3 L525.8,235.0 L526.6,233.8 L527.4,232.5 L528.2,231.1 L529.0,231.9 L529.8,231.9 L530.6,231.9 L531.4,230.9 L532.2,230.7 L533.0,230.6 L533.8,230.5 L534.6,231.4 L535.4,231.9 L536.2,231.7 L537.0,230.9 L537.8,231.1 L538.6,231.2 L539.4,231.6 L540.2,231.8 L541.0,231.2 L541.8,231.0 L542.6,231.3 L543.4,231.2 L544.2,230.7 L545.0,229.1 L545.8,229.1 L546.6,230.0 L547.4,230.0 L548.2,230.5 L549.0,229.8 L549.8,229.7 L550.6,230.0 L551.4,230.1 L552.2,229.8 L553.0,230.1 L553.8,230.2 L554.6,230.1 L555.4,228.5 L556.2,228.1 L557.0,227.9 L557.8,227.7 L558.6,226.6 L559.4,227.2 L560.2,225.7 L561.0,225.3 L561.8,223.4 L562.6,222.8 L563.4,222.7 L564.2,221.9 L565.0,222.3 L565.8,223.3 L566.6,221.6 L567.4,220.4 L568.2,221.2 L569.0,220.7 L569.8,219.7 L570.6,218.4 L571.4,218.7 L572.2,218.4 L573.0,218.8 L573.8,217.4 L574.6,216.8 L575.4,216.4 L576.2,216.2 L577.0,216.8 L577.8,216.9 L578.6,216.0 L579.4,215.7 L580.2,215.4 L581.0,215.9 L581.8,215.4 L582.6,214.4 L583.4,214.3 L584.2,214.4 L585.0,214.9 L585.8,215.4 L586.6,215.5 L587.4,215.0 L588.2,214.0 L589.0,212.4 L589.8,209.1 L590.6,205.7 L591.4,203.1 L592.2,200.4 L593.0,198.7 L593.8,195.7 L594.6,192.6 L595.4,191.2 L596.2,188.6 L597.0,187.3 L597.8,184.2 L598.6,181.9 L599.4,179.0 L600.2,178.5 L601.0,176.9 L601.8,176.5 L602.6,175.9 L603.4,175.5 L604.2,175.9 L605.0,175.4 L605.8,174.9 L606.6,175.3 L607.4,173.7 L608.2,174.2 L609.0,174.6 L609.8,170.9 L610.6,168.8 L611.4,165.6 L612.2,162.7 L613.0,160.5 L613.8,159.0 L614.6,157.5 L615.4,154.9 L616.2,152.2 L617.0,150.8 L617.8,150.2 L618.6,149.7 L619.4,148.7 L620.2,148.3 L621.0,148.3 L621.8,150.3 L622.6,151.1 L623.4,151.0 L624.2,149.9 L625.0,149.1 L625.8,147.5 L626.6,145.5 L627.4,144.7 L628.2,144.2 L629.0,143.7 L629.8,142.5 L630.6,141.4 L631.4,140.9 L632.2,140.4 L633.0,140.1 L633.8,139.4 L634.6,139.9 L635.4,139.3 L636.2,140.3 L637.0,140.4 L637.8,138.9 L638.6,137.7 L639.4,136.6 L640.2,134.7 L641.0,134.1 L641.8,133.2 L642.6,133.0 L643.4,131.7 L644.2,131.6 L645.0,131.6 L645.8,130.6 L646.6,130.0 L647.4,128.9 L648.2,128.5 L649.0,127.8 L649.8,127.3 L650.6,126.3 L651.4,124.8 L652.2,123.6 L653.0,123.2 L653.8,123.3 L654.0,123.4" fill="none" stroke="#fff" stroke-width="1.35" stroke-linejoin="round"/>
<path d="M49.0,444.3 L49.8,444.3 L50.6,444.3 L51.4,444.2 L52.2,444.2 L53.0,444.2 L53.8,444.2 L54.6,444.2 L55.4,444.2 L56.2,444.2 L57.0,444.2 L57.8,444.2 L58.6,444.2 L59.4,444.3 L60.2,444.2 L61.0,444.2 L61.8,444.2 L62.6,444.1 L63.4,444.2 L64.2,444.1 L65.0,444.1 L65.8,444.1 L66.6,444.1 L67.4,444.1 L68.2,444.1 L69.0,444.1 L69.8,444.0 L70.6,443.9 L71.4,443.8 L72.2,443.8 L73.0,443.7 L73.8,443.7 L74.6,443.6 L75.4,443.5 L76.2,443.4 L77.0,443.3 L77.8,443.2 L78.6,443.1 L79.4,443.1 L80.2,443.0 L81.0,442.9 L81.8,442.9 L82.6,442.8 L83.4,442.6 L84.2,442.6 L85.0,442.5 L85.8,442.5 L86.6,442.4 L87.4,442.3 L88.2,442.3 L89.0,442.3 L89.8,442.3 L90.6,442.3 L91.4,442.3 L92.2,442.2 L93.0,442.1 L93.8,442.0 L94.6,441.9 L95.4,441.8 L96.2,441.7 L97.0,441.7 L97.8,441.8 L98.6,441.7 L99.4,441.7 L100.2,441.5 L101.0,441.5 L101.8,441.4 L102.6,441.3 L103.4,441.3 L104.2,441.3 L105.0,441.1 L105.8,441.1 L106.6,441.0 L107.4,441.0 L108.2,441.0 L109.0,440.9 L109.8,440.8 L110.6,440.7 L111.4,440.5 L112.2,440.6 L113.0,440.3 L113.8,440.2 L114.6,440.0 L115.4,439.7 L116.2,439.6 L117.0,439.5 L117.8,439.2 L118.6,438.9 L119.4,438.6 L120.2,438.4 L121.0,438.2 L121.8,438.1 L122.6,437.8 L123.4,437.7 L124.2,437.5 L125.0,437.4 L125.8,437.3 L126.6,437.0 L127.4,436.8 L128.2,436.8 L129.0,436.6 L129.8,436.2 L130.6,436.0 L131.4,435.8 L132.2,435.7 L133.0,435.5 L133.8,435.1 L134.6,434.8 L135.4,434.7 L136.2,434.6 L137.0,434.3 L137.8,434.0 L138.6,433.8 L139.4,433.7 L140.2,433.4 L141.0,433.3 L141.8,433.3 L142.6,433.1 L143.4,432.8 L144.2,432.8 L145.0,432.5 L145.8,432.4 L146.6,432.1 L147.4,431.7 L148.2,431.7 L149.0,431.7 L149.8,431.5 L150.6,431.4 L151.4,431.1 L152.2,430.9 L153.0,430.7 L153.8,430.7 L154.6,430.5 L155.4,429.9 L156.2,429.7 L157.0,429.2 L157.8,428.8 L158.6,428.7 L159.4,428.2 L160.2,427.6 L161.0,427.2 L161.8,427.0 L162.6,426.7 L163.4,426.5 L164.2,425.9 L165.0,425.6 L165.8,425.2 L166.6,424.7 L167.4,424.4 L168.2,424.0 L169.0,423.2 L169.8,423.1 L170.6,422.1 L171.4,421.6 L172.2,421.0 L173.0,420.5 L173.8,419.7 L174.6,419.1 L175.4,418.5 L176.2,418.2 L177.0,417.3 L177.8,416.9 L178.6,416.6 L179.4,416.0 L180.2,416.8 L181.0,416.3 L181.8,415.5 L182.6,415.9 L183.4,415.2 L184.2,414.8 L185.0,414.2 L185.8,413.0 L186.6,412.0 L187.4,411.0 L188.2,410.2 L189.0,408.8 L189.8,407.9 L190.6,407.3 L191.4,407.2 L192.2,406.6 L193.0,406.3 L193.8,406.0 L194.6,405.3 L195.4,405.1 L196.2,404.0 L197.0,403.2 L197.8,402.5 L198.6,402.4 L199.4,402.2 L200.2,401.2 L201.0,400.3 L201.8,399.1 L202.6,398.8 L203.4,398.5 L204.2,398.1 L205.0,397.2 L205.8,398.1 L206.6,398.1 L207.4,397.2 L208.2,396.4 L209.0,395.9 L209.8,395.8 L210.6,395.5 L211.4,395.5 L212.2,395.5 L213.0,395.7 L213.8,395.5 L214.6,394.7 L215.4,394.3 L216.2,393.6 L217.0,392.9 L217.8,393.8 L218.6,392.7 L219.4,393.2 L220.2,392.0 L221.0,391.4 L221.8,391.4 L222.6,390.6 L223.4,390.1 L224.2,389.3 L225.0,388.4 L225.8,388.0 L226.6,387.2 L227.4,388.0 L228.2,387.1 L229.0,387.5 L229.8,384.8 L230.6,384.8 L231.4,384.9 L232.2,384.2 L233.0,384.5 L233.8,384.2 L234.6,383.2 L235.4,382.9 L236.2,383.4 L237.0,382.8 L237.8,381.9 L238.6,380.8 L239.4,380.7 L240.2,379.6 L241.0,379.7 L241.8,381.3 L242.6,381.3 L243.4,380.9 L244.2,381.0 L245.0,380.9 L245.8,380.7 L246.6,380.4 L247.4,379.9 L248.2,379.1 L249.0,378.8 L249.8,376.4 L250.6,375.7 L251.4,375.7 L252.2,374.7 L253.0,374.3 L253.8,373.6 L254.6,373.0 L255.4,374.5 L256.2,373.8 L257.0,372.7 L257.8,372.7 L258.6,371.5 L259.4,371.3 L260.2,370.6 L261.0,370.7 L261.8,368.7 L262.6,368.6 L263.4,368.0 L264.2,366.6 L265.0,366.9 L265.8,365.6 L266.6,366.0 L267.4,365.3 L268.2,364.7 L269.0,363.7 L269.8,363.3 L270.6,361.1 L271.4,361.4 L272.2,361.1 L273.0,361.6 L273.8,361.6 L274.6,362.0 L275.4,361.4 L276.2,362.7 L277.0,362.6 L277.8,361.6 L278.6,360.6 L279.4,360.0 L280.2,359.9 L281.0,359.7 L281.8,357.9 L282.6,356.9 L283.4,355.7 L284.2,354.9 L285.0,354.2 L285.8,354.5 L286.6,353.7 L287.4,354.7 L288.2,354.7 L289.0,353.3 L289.8,352.4 L290.6,351.9 L291.4,352.8 L292.2,351.6 L293.0,350.4 L293.8,350.5 L294.6,350.8 L295.4,350.2 L296.2,351.2 L297.0,350.8 L297.8,350.6 L298.6,349.6 L299.4,349.4 L300.2,349.1 L301.0,347.7 L301.8,348.2 L302.6,347.2 L303.4,347.5 L304.2,346.8 L305.0,348.5 L305.8,348.2 L306.6,348.3 L307.4,348.3 L308.2,346.8 L309.0,345.6 L309.8,345.6 L310.6,346.5 L311.4,346.3 L312.2,346.8 L313.0,347.1 L313.8,345.7 L314.6,346.1 L315.4,347.3 L316.2,346.3 L317.0,344.9 L317.8,345.2 L318.6,345.2 L319.4,345.7 L320.2,345.0 L321.0,345.1 L321.8,343.9 L322.6,344.8 L323.4,345.7 L324.2,346.0 L325.0,344.3 L325.8,344.4 L326.6,342.8 L327.4,343.2 L328.2,343.7 L329.0,343.5 L329.8,344.3 L330.6,344.7 L331.4,345.5 L332.2,345.5 L333.0,345.7 L333.8,344.5 L334.6,344.4 L335.4,344.9 L336.2,345.7 L337.0,346.1 L337.8,347.3 L338.6,346.6 L339.4,346.6 L340.2,346.7 L341.0,346.3 L341.8,346.3 L342.6,345.5 L343.4,346.2 L344.2,345.3 L345.0,345.6 L345.8,344.9 L346.6,345.3 L347.4,343.6 L348.2,343.7 L349.0,343.0 L349.8,343.3 L350.6,344.2 L351.4,343.3 L352.2,342.7 L353.0,342.7 L353.8,343.6 L354.6,342.8 L355.4,343.6 L356.2,343.3 L357.0,343.3 L357.8,343.8 L358.6,344.7 L359.4,344.0 L360.2,343.5 L361.0,343.3 L361.8,342.8 L362.6,341.3 L363.4,340.9 L364.2,341.1 L365.0,341.6 L365.8,341.1 L366.6,339.1 L367.4,336.7 L368.2,334.3 L369.0,334.3 L369.8,334.6 L370.6,335.0 L371.4,333.8 L372.2,333.7 L373.0,333.9 L373.8,334.5 L374.6,333.9 L375.4,333.0 L376.2,331.6 L377.0,330.4 L377.8,329.1 L378.6,329.1 L379.4,329.7 L380.2,329.8 L381.0,330.1 L381.8,329.3 L382.6,329.4 L383.4,329.0 L384.2,329.3 L385.0,330.4 L385.8,330.4 L386.6,329.4 L387.4,330.0 L388.2,330.2 L389.0,330.0 L389.8,330.4 L390.6,331.9 L391.4,333.3 L392.2,332.9 L393.0,333.7 L393.8,334.5 L394.6,333.5 L395.4,333.7 L396.2,333.9 L397.0,334.2 L397.8,333.4 L398.6,333.8 L399.4,334.9 L400.2,335.8 L401.0,336.4 L401.8,335.9 L402.6,336.8 L403.4,337.3 L404.2,336.9 L405.0,338.5 L405.8,339.2 L406.6,339.4 L407.4,338.9 L408.2,339.3 L409.0,338.9 L409.8,338.1 L410.6,338.4 L411.4,338.0 L412.2,337.2 L413.0,337.7 L413.8,336.8 L414.6,336.1 L415.4,335.6 L416.2,334.6 L417.0,334.6 L417.8,336.0 L418.6,335.1 L419.4,335.1 L420.2,334.3 L421.0,334.2 L421.8,335.4 L422.6,335.6 L423.4,334.7 L424.2,334.6 L425.0,333.9 L425.8,333.2 L426.6,332.5 L427.4,331.9 L428.2,332.2 L429.0,332.2 L429.8,332.0 L430.6,331.3 L431.4,329.9 L432.2,330.2 L433.0,329.9 L433.8,330.9 L434.6,331.4 L435.4,331.7 L436.2,331.3 L437.0,330.2 L437.8,331.4 L438.6,332.2 L439.4,331.0 L440.2,331.4 L441.0,332.4 L441.8,331.5 L442.6,332.8 L443.4,332.3 L444.2,331.6 L445.0,332.8 L445.8,332.8 L446.6,332.2 L447.4,332.9 L448.2,331.7 L449.0,333.5 L449.8,333.0 L450.6,333.5 L451.4,333.5 L452.2,334.2 L453.0,334.9 L453.8,334.2 L454.6,334.7 L455.4,334.2 L456.2,333.7 L457.0,333.7 L457.8,333.1 L458.6,332.9 L459.4,333.9 L460.2,333.7 L461.0,334.3 L461.8,334.2 L462.6,333.2 L463.4,332.0 L464.2,332.1 L465.0,332.8 L465.8,332.9 L466.6,332.4 L467.4,333.3 L468.2,332.0 L469.0,331.5 L469.8,332.1 L470.6,333.7 L471.4,333.4 L472.2,332.3 L473.0,332.6 L473.8,332.7 L474.6,332.8 L475.4,331.9 L476.2,331.0 L477.0,331.1 L477.8,331.1 L478.6,331.8 L479.4,331.9 L480.2,330.9 L481.0,330.1 L481.8,329.8 L482.6,329.4 L483.4,329.6 L484.2,329.6 L485.0,329.3 L485.8,329.8 L486.6,329.1 L487.4,328.0 L488.2,327.1 L489.0,326.8 L489.8,326.6 L490.6,326.5 L491.4,327.0 L492.2,327.3 L493.0,327.0 L493.8,326.4 L494.6,325.7 L495.4,325.5 L496.2,327.2 L497.0,325.4 L497.8,325.9 L498.6,326.4 L499.4,326.3 L500.2,325.9 L501.0,326.1 L501.8,324.9 L502.6,325.1 L503.4,325.6 L504.2,324.1 L505.0,323.3 L505.8,323.3 L506.6,323.6 L507.4,326.9 L508.2,328.0 L509.0,326.3 L509.8,324.7 L510.6,324.3 L511.4,323.8 L512.2,322.2 L513.0,321.7 L513.8,321.2 L514.6,320.3 L515.4,317.8 L516.2,317.2 L517.0,315.7 L517.8,315.0 L518.6,314.5 L519.4,314.9 L520.2,314.8 L521.0,314.1 L521.8,313.3 L522.6,312.7 L523.4,310.6 L524.2,311.0 L525.0,309.8 L525.8,310.9 L526.6,311.3 L527.4,310.8 L528.2,309.6 L529.0,310.5 L529.8,309.9 L530.6,309.5 L531.4,309.3 L532.2,307.6 L533.0,307.8 L533.8,308.2 L534.6,307.8 L535.4,307.3 L536.2,306.1 L537.0,306.4 L537.8,306.0 L538.6,305.6 L539.4,304.8 L540.2,305.1 L541.0,305.8 L541.8,305.8 L542.6,306.1 L543.4,306.6 L544.2,306.8 L545.0,306.7 L545.8,306.2 L546.6,305.9 L547.4,306.0 L548.2,306.3 L549.0,306.4 L549.8,305.4 L550.6,305.1 L551.4,304.0 L552.2,304.7 L553.0,303.8 L553.8,303.7 L554.6,302.8 L555.4,302.4 L556.2,301.8 L557.0,302.9 L557.8,302.5 L558.6,301.8 L559.4,300.8 L560.2,300.3 L561.0,300.6 L561.8,301.4 L562.6,299.7 L563.4,299.0 L564.2,298.9 L565.0,298.4 L565.8,297.5 L566.6,297.7 L567.4,298.1 L568.2,296.6 L569.0,296.8 L569.8,297.1 L570.6,297.2 L571.4,296.1 L572.2,296.8 L573.0,296.3 L573.8,294.8 L574.6,294.7 L575.4,292.9 L576.2,292.8 L577.0,291.0 L577.8,291.0 L578.6,289.7 L579.4,289.8 L580.2,289.2 L581.0,288.5 L581.8,288.0 L582.6,288.3 L583.4,286.5 L584.2,286.8 L585.0,286.9 L585.8,286.9 L586.6,287.0 L587.4,287.2 L588.2,285.9 L589.0,284.6 L589.8,282.8 L590.6,282.0 L591.4,278.9 L592.2,278.8 L593.0,276.4 L593.8,273.5 L594.6,271.9 L595.4,270.7 L596.2,269.6 L597.0,268.2 L597.8,267.2 L598.6,265.4 L599.4,264.5 L600.2,262.3 L601.0,262.4 L601.8,262.4 L602.6,261.3 L603.4,260.1 L604.2,259.8 L605.0,261.3 L605.8,260.7 L606.6,260.3 L607.4,259.9 L608.2,260.6 L609.0,260.1 L609.8,258.4 L610.6,256.5 L611.4,255.7 L612.2,255.3 L613.0,253.8 L613.8,253.1 L614.6,251.6 L615.4,250.1 L616.2,248.6 L617.0,247.0 L617.8,246.1 L618.6,244.7 L619.4,242.5 L620.2,243.2 L621.0,243.7 L621.8,244.6 L622.6,245.2 L623.4,245.4 L624.2,242.7 L625.0,241.6 L625.8,240.9 L626.6,238.1 L627.4,237.7 L628.2,236.1 L629.0,234.6 L629.8,232.3 L630.6,232.3 L631.4,230.5 L632.2,229.4 L633.0,229.5 L633.8,229.5 L634.6,229.8 L635.4,230.1 L636.2,231.2 L637.0,230.8 L637.8,229.3 L638.6,227.7 L639.4,225.6 L640.2,224.0 L641.0,221.8 L641.8,221.5 L642.6,220.4 L643.4,218.6 L644.2,218.2 L645.0,219.5 L645.8,218.3 L646.6,217.0 L647.4,216.1 L648.2,214.0 L649.0,213.6 L649.8,213.0 L650.6,210.5 L651.4,210.6 L652.2,209.0 L653.0,207.9 L653.8,207.7 L654.0,207.8 L654.0,447.0 L49.0,447.0 Z" fill="#3f8c62"/>
<path d="M49.0,444.3 L49.8,444.3 L50.6,444.3 L51.4,444.2 L52.2,444.2 L53.0,444.2 L53.8,444.2 L54.6,444.2 L55.4,444.2 L56.2,444.2 L57.0,444.2 L57.8,444.2 L58.6,444.2 L59.4,444.3 L60.2,444.2 L61.0,444.2 L61.8,444.2 L62.6,444.1 L63.4,444.2 L64.2,444.1 L65.0,444.1 L65.8,444.1 L66.6,444.1 L67.4,444.1 L68.2,444.1 L69.0,444.1 L69.8,444.0 L70.6,443.9 L71.4,443.8 L72.2,443.8 L73.0,443.7 L73.8,443.7 L74.6,443.6 L75.4,443.5 L76.2,443.4 L77.0,443.3 L77.8,443.2 L78.6,443.1 L79.4,443.1 L80.2,443.0 L81.0,442.9 L81.8,442.9 L82.6,442.8 L83.4,442.6 L84.2,442.6 L85.0,442.5 L85.8,442.5 L86.6,442.4 L87.4,442.3 L88.2,442.3 L89.0,442.3 L89.8,442.3 L90.6,442.3 L91.4,442.3 L92.2,442.2 L93.0,442.1 L93.8,442.0 L94.6,441.9 L95.4,441.8 L96.2,441.7 L97.0,441.7 L97.8,441.8 L98.6,441.7 L99.4,441.7 L100.2,441.5 L101.0,441.5 L101.8,441.4 L102.6,441.3 L103.4,441.3 L104.2,441.3 L105.0,441.1 L105.8,441.1 L106.6,441.0 L107.4,441.0 L108.2,441.0 L109.0,440.9 L109.8,440.8 L110.6,440.7 L111.4,440.5 L112.2,440.6 L113.0,440.3 L113.8,440.2 L114.6,440.0 L115.4,439.7 L116.2,439.6 L117.0,439.5 L117.8,439.2 L118.6,438.9 L119.4,438.6 L120.2,438.4 L121.0,438.2 L121.8,438.1 L122.6,437.8 L123.4,437.7 L124.2,437.5 L125.0,437.4 L125.8,437.3 L126.6,437.0 L127.4,436.8 L128.2,436.8 L129.0,436.6 L129.8,436.2 L130.6,436.0 L131.4,435.8 L132.2,435.7 L133.0,435.5 L133.8,435.1 L134.6,434.8 L135.4,434.7 L136.2,434.6 L137.0,434.3 L137.8,434.0 L138.6,433.8 L139.4,433.7 L140.2,433.4 L141.0,433.3 L141.8,433.3 L142.6,433.1 L143.4,432.8 L144.2,432.8 L145.0,432.5 L145.8,432.4 L146.6,432.1 L147.4,431.7 L148.2,431.7 L149.0,431.7 L149.8,431.5" fill="none" stroke="#fff" stroke-width="0.6" stroke-linejoin="round"/>
<path d="M150.6,431.4 L151.4,431.1 L152.2,430.9 L153.0,430.7 L153.8,430.7 L154.6,430.5 L155.4,429.9 L156.2,429.7 L157.0,429.2 L157.8,428.8 L158.6,428.7 L159.4,428.2 L160.2,427.6 L161.0,427.2 L161.8,427.0 L162.6,426.7 L163.4,426.5 L164.2,425.9 L165.0,425.6 L165.8,425.2 L166.6,424.7 L167.4,424.4 L168.2,424.0 L169.0,423.2 L169.8,423.1 L170.6,422.1 L171.4,421.6 L172.2,421.0 L173.0,420.5 L173.8,419.7 L174.6,419.1 L175.4,418.5 L176.2,418.2 L177.0,417.3 L177.8,416.9 L178.6,416.6 L179.4,416.0 L180.2,416.8 L181.0,416.3 L181.8,415.5 L182.6,415.9 L183.4,415.2 L184.2,414.8 L185.0,414.2 L185.8,413.0 L186.6,412.0 L187.4,411.0 L188.2,410.2 L189.0,408.8 L189.8,407.9 L190.6,407.3 L191.4,407.2 L192.2,406.6 L193.0,406.3 L193.8,406.0 L194.6,405.3 L195.4,405.1 L196.2,404.0 L197.0,403.2 L197.8,402.5 L198.6,402.4 L199.4,402.2 L200.2,401.2 L201.0,400.3 L201.8,399.1 L202.6,398.8 L203.4,398.5 L204.2,398.1 L205.0,397.2 L205.8,398.1 L206.6,398.1 L207.4,397.2 L208.2,396.4 L209.0,395.9 L209.8,395.8 L210.6,395.5 L211.4,395.5 L212.2,395.5 L213.0,395.7 L213.8,395.5 L214.6,394.7 L215.4,394.3 L216.2,393.6 L217.0,392.9 L217.8,393.8 L218.6,392.7 L219.4,393.2 L220.2,392.0 L221.0,391.4 L221.8,391.4 L222.6,390.6 L223.4,390.1 L224.2,389.3 L225.0,388.4 L225.8,388.0 L226.6,387.2 L227.4,388.0 L228.2,387.1 L229.0,387.5 L229.8,384.8 L230.6,384.8 L231.4,384.9 L232.2,384.2 L233.0,384.5 L233.8,384.2 L234.6,383.2 L235.4,382.9 L236.2,383.4 L237.0,382.8 L237.8,381.9 L238.6,380.8 L239.4,380.7 L240.2,379.6 L241.0,379.7 L241.8,381.3 L242.6,381.3 L243.4,380.9 L244.2,381.0 L245.0,380.9 L245.8,380.7 L246.6,380.4 L247.4,379.9 L248.2,379.1 L249.0,378.8 L249.8,376.4 L250.6,375.7 L251.4,375.7 L252.2,374.7 L253.0,374.3 L253.8,373.6 L254.6,373.0 L255.4,374.5 L256.2,373.8 L257.0,372.7 L257.8,372.7 L258.6,371.5 L259.4,371.3 L260.2,370.6 L261.0,370.7 L261.8,368.7 L262.6,368.6 L263.4,368.0 L264.2,366.6 L265.0,366.9 L265.8,365.6 L266.6,366.0 L267.4,365.3 L268.2,364.7 L269.0,363.7 L269.8,363.3 L270.6,361.1 L271.4,361.4 L272.2,361.1 L273.0,361.6 L273.8,361.6 L274.6,362.0 L275.4,361.4 L276.2,362.7 L277.0,362.6 L277.8,361.6 L278.6,360.6 L279.4,360.0 L280.2,359.9 L281.0,359.7 L281.8,357.9 L282.6,356.9 L283.4,355.7 L284.2,354.9 L285.0,354.2 L285.8,354.5 L286.6,353.7 L287.4,354.7 L288.2,354.7 L289.0,353.3 L289.8,352.4 L290.6,351.9 L291.4,352.8 L292.2,351.6 L293.0,350.4 L293.8,350.5 L294.6,350.8 L295.4,350.2 L296.2,351.2 L297.0,350.8 L297.8,350.6 L298.6,349.6 L299.4,349.4 L300.2,349.1 L301.0,347.7 L301.8,348.2 L302.6,347.2 L303.4,347.5 L304.2,346.8 L305.0,348.5 L305.8,348.2 L306.6,348.3 L307.4,348.3 L308.2,346.8 L309.0,345.6 L309.8,345.6 L310.6,346.5 L311.4,346.3 L312.2,346.8 L313.0,347.1 L313.8,345.7 L314.6,346.1 L315.4,347.3 L316.2,346.3 L317.0,344.9 L317.8,345.2 L318.6,345.2 L319.4,345.7 L320.2,345.0 L321.0,345.1 L321.8,343.9 L322.6,344.8 L323.4,345.7 L324.2,346.0 L325.0,344.3 L325.8,344.4 L326.6,342.8 L327.4,343.2 L328.2,343.7 L329.0,343.5 L329.8,344.3 L330.6,344.7 L331.4,345.5 L332.2,345.5 L333.0,345.7 L333.8,344.5 L334.6,344.4 L335.4,344.9 L336.2,345.7 L337.0,346.1 L337.8,347.3 L338.6,346.6 L339.4,346.6 L340.2,346.7 L341.0,346.3 L341.8,346.3 L342.6,345.5 L343.4,346.2 L344.2,345.3 L345.0,345.6 L345.8,344.9 L346.6,345.3 L347.4,343.6 L348.2,343.7 L349.0,343.0 L349.8,343.3 L350.6,344.2 L351.4,343.3 L352.2,342.7 L353.0,342.7 L353.8,343.6 L354.6,342.8 L355.4,343.6 L356.2,343.3 L357.0,343.3 L357.8,343.8 L358.6,344.7 L359.4,344.0 L360.2,343.5 L361.0,343.3 L361.8,342.8 L362.6,341.3 L363.4,340.9 L364.2,341.1 L365.0,341.6 L365.8,341.1 L366.6,339.1 L367.4,336.7 L368.2,334.3 L369.0,334.3 L369.8,334.6 L370.6,335.0 L371.4,333.8 L372.2,333.7 L373.0,333.9 L373.8,334.5 L374.6,333.9 L375.4,333.0 L376.2,331.6 L377.0,330.4 L377.8,329.1 L378.6,329.1 L379.4,329.7 L380.2,329.8 L381.0,330.1 L381.8,329.3 L382.6,329.4 L383.4,329.0 L384.2,329.3 L385.0,330.4 L385.8,330.4 L386.6,329.4 L387.4,330.0 L388.2,330.2 L389.0,330.0 L389.8,330.4 L390.6,331.9 L391.4,333.3 L392.2,332.9 L393.0,333.7 L393.8,334.5 L394.6,333.5 L395.4,333.7 L396.2,333.9 L397.0,334.2 L397.8,333.4 L398.6,333.8 L399.4,334.9 L400.2,335.8 L401.0,336.4 L401.8,335.9 L402.6,336.8 L403.4,337.3 L404.2,336.9 L405.0,338.5 L405.8,339.2 L406.6,339.4 L407.4,338.9 L408.2,339.3 L409.0,338.9 L409.8,338.1 L410.6,338.4 L411.4,338.0 L412.2,337.2 L413.0,337.7 L413.8,336.8 L414.6,336.1 L415.4,335.6 L416.2,334.6 L417.0,334.6 L417.8,336.0 L418.6,335.1 L419.4,335.1 L420.2,334.3 L421.0,334.2 L421.8,335.4 L422.6,335.6 L423.4,334.7 L424.2,334.6 L425.0,333.9 L425.8,333.2 L426.6,332.5 L427.4,331.9 L428.2,332.2 L429.0,332.2 L429.8,332.0 L430.6,331.3 L431.4,329.9 L432.2,330.2 L433.0,329.9 L433.8,330.9 L434.6,331.4 L435.4,331.7 L436.2,331.3 L437.0,330.2 L437.8,331.4 L438.6,332.2 L439.4,331.0 L440.2,331.4 L441.0,332.4 L441.8,331.5 L442.6,332.8 L443.4,332.3 L444.2,331.6 L445.0,332.8 L445.8,332.8 L446.6,332.2 L447.4,332.9 L448.2,331.7 L449.0,333.5 L449.8,333.0 L450.6,333.5 L451.4,333.5 L452.2,334.2 L453.0,334.9 L453.8,334.2 L454.6,334.7 L455.4,334.2 L456.2,333.7 L457.0,333.7 L457.8,333.1 L458.6,332.9 L459.4,333.9 L460.2,333.7 L461.0,334.3 L461.8,334.2 L462.6,333.2 L463.4,332.0 L464.2,332.1 L465.0,332.8 L465.8,332.9 L466.6,332.4 L467.4,333.3 L468.2,332.0 L469.0,331.5 L469.8,332.1 L470.6,333.7 L471.4,333.4 L472.2,332.3 L473.0,332.6 L473.8,332.7 L474.6,332.8 L475.4,331.9 L476.2,331.0 L477.0,331.1 L477.8,331.1 L478.6,331.8 L479.4,331.9 L480.2,330.9 L481.0,330.1 L481.8,329.8 L482.6,329.4 L483.4,329.6 L484.2,329.6 L485.0,329.3 L485.8,329.8 L486.6,329.1 L487.4,328.0 L488.2,327.1 L489.0,326.8 L489.8,326.6 L490.6,326.5 L491.4,327.0 L492.2,327.3 L493.0,327.0 L493.8,326.4 L494.6,325.7 L495.4,325.5 L496.2,327.2 L497.0,325.4 L497.8,325.9 L498.6,326.4 L499.4,326.3 L500.2,325.9 L501.0,326.1 L501.8,324.9 L502.6,325.1 L503.4,325.6 L504.2,324.1 L505.0,323.3 L505.8,323.3 L506.6,323.6 L507.4,326.9 L508.2,328.0 L509.0,326.3 L509.8,324.7 L510.6,324.3 L511.4,323.8 L512.2,322.2 L513.0,321.7 L513.8,321.2 L514.6,320.3 L515.4,317.8 L516.2,317.2 L517.0,315.7 L517.8,315.0 L518.6,314.5 L519.4,314.9 L520.2,314.8 L521.0,314.1 L521.8,313.3 L522.6,312.7 L523.4,310.6 L524.2,311.0 L525.0,309.8 L525.8,310.9 L526.6,311.3 L527.4,310.8 L528.2,309.6 L529.0,310.5 L529.8,309.9 L530.6,309.5 L531.4,309.3 L532.2,307.6 L533.0,307.8 L533.8,308.2 L534.6,307.8 L535.4,307.3 L536.2,306.1 L537.0,306.4 L537.8,306.0 L538.6,305.6 L539.4,304.8 L540.2,305.1 L541.0,305.8 L541.8,305.8 L542.6,306.1 L543.4,306.6 L544.2,306.8 L545.0,306.7 L545.8,306.2 L546.6,305.9 L547.4,306.0 L548.2,306.3 L549.0,306.4 L549.8,305.4 L550.6,305.1 L551.4,304.0 L552.2,304.7 L553.0,303.8 L553.8,303.7 L554.6,302.8 L555.4,302.4 L556.2,301.8 L557.0,302.9 L557.8,302.5 L558.6,301.8 L559.4,300.8 L560.2,300.3 L561.0,300.6 L561.8,301.4 L562.6,299.7 L563.4,299.0 L564.2,298.9 L565.0,298.4 L565.8,297.5 L566.6,297.7 L567.4,298.1 L568.2,296.6 L569.0,296.8 L569.8,297.1 L570.6,297.2 L571.4,296.1 L572.2,296.8 L573.0,296.3 L573.8,294.8 L574.6,294.7 L575.4,292.9 L576.2,292.8 L577.0,291.0 L577.8,291.0 L578.6,289.7 L579.4,289.8 L580.2,289.2 L581.0,288.5 L581.8,288.0 L582.6,288.3 L583.4,286.5 L584.2,286.8 L585.0,286.9 L585.8,286.9 L586.6,287.0 L587.4,287.2 L588.2,285.9 L589.0,284.6 L589.8,282.8 L590.6,282.0 L591.4,278.9 L592.2,278.8 L593.0,276.4 L593.8,273.5 L594.6,271.9 L595.4,270.7 L596.2,269.6 L597.0,268.2 L597.8,267.2 L598.6,265.4 L599.4,264.5 L600.2,262.3 L601.0,262.4 L601.8,262.4 L602.6,261.3 L603.4,260.1 L604.2,259.8 L605.0,261.3 L605.8,260.7 L606.6,260.3 L607.4,259.9 L608.2,260.6 L609.0,260.1 L609.8,258.4 L610.6,256.5 L611.4,255.7 L612.2,255.3 L613.0,253.8 L613.8,253.1 L614.6,251.6 L615.4,250.1 L616.2,248.6 L617.0,247.0 L617.8,246.1 L618.6,244.7 L619.4,242.5 L620.2,243.2 L621.0,243.7 L621.8,244.6 L622.6,245.2 L623.4,245.4 L624.2,242.7 L625.0,241.6 L625.8,240.9 L626.6,238.1 L627.4,237.7 L628.2,236.1 L629.0,234.6 L629.8,232.3 L630.6,232.3 L631.4,230.5 L632.2,229.4 L633.0,229.5 L633.8,229.5 L634.6,229.8 L635.4,230.1 L636.2,231.2 L637.0,230.8 L637.8,229.3 L638.6,227.7 L639.4,225.6 L640.2,224.0 L641.0,221.8 L641.8,221.5 L642.6,220.4 L643.4,218.6 L644.2,218.2 L645.0,219.5 L645.8,218.3 L646.6,217.0 L647.4,216.1 L648.2,214.0 L649.0,213.6 L649.8,213.0 L650.6,210.5 L651.4,210.6 L652.2,209.0 L653.0,207.9 L653.8,207.7 L654.0,207.8" fill="none" stroke="#fff" stroke-width="1.35" stroke-linejoin="round"/>
<path d="M49.0,445.0 L49.8,445.0 L50.6,445.0 L51.4,445.0 L52.2,445.0 L53.0,444.9 L53.8,444.9 L54.6,444.9 L55.4,444.9 L56.2,444.9 L57.0,444.9 L57.8,444.9 L58.6,444.9 L59.4,444.9 L60.2,444.9 L61.0,444.9 L61.8,444.9 L62.6,444.9 L63.4,444.9 L64.2,444.9 L65.0,444.8 L65.8,444.8 L66.6,444.8 L67.4,444.8 L68.2,444.8 L69.0,444.8 L69.8,444.8 L70.6,444.7 L71.4,444.7 L72.2,444.6 L73.0,444.6 L73.8,444.6 L74.6,444.5 L75.4,444.5 L76.2,444.4 L77.0,444.4 L77.8,444.4 L78.6,444.4 L79.4,444.3 L80.2,444.3 L81.0,444.2 L81.8,444.2 L82.6,444.1 L83.4,444.1 L84.2,444.1 L85.0,444.0 L85.8,444.0 L86.6,444.0 L87.4,443.9 L88.2,443.9 L89.0,443.9 L89.8,443.8 L90.6,443.8 L91.4,443.7 L92.2,443.7 L93.0,443.6 L93.8,443.6 L94.6,443.5 L95.4,443.5 L96.2,443.5 L97.0,443.5 L97.8,443.4 L98.6,443.4 L99.4,443.3 L100.2,443.3 L101.0,443.2 L101.8,443.2 L102.6,443.1 L103.4,443.1 L104.2,443.1 L105.0,443.0 L105.8,443.0 L106.6,443.0 L107.4,442.9 L108.2,442.9 L109.0,442.8 L109.8,442.7 L110.6,442.7 L111.4,442.7 L112.2,442.6 L113.0,442.5 L113.8,442.4 L114.6,442.2 L115.4,442.1 L116.2,441.9 L117.0,441.9 L117.8,441.7 L118.6,441.6 L119.4,441.5 L120.2,441.4 L121.0,441.2 L121.8,441.1 L122.6,441.0 L123.4,440.8 L124.2,440.8 L125.0,440.6 L125.8,440.5 L126.6,440.3 L127.4,440.2 L128.2,440.1 L129.0,440.0 L129.8,439.8 L130.6,439.7 L131.4,439.5 L132.2,439.5 L133.0,439.3 L133.8,439.1 L134.6,438.9 L135.4,438.8 L136.2,438.7 L137.0,438.6 L137.8,438.5 L138.6,438.2 L139.4,438.1 L140.2,437.9 L141.0,437.8 L141.8,437.8 L142.6,437.6 L143.4,437.5 L144.2,437.3 L145.0,437.2 L145.8,437.2 L146.6,437.0 L147.4,436.8 L148.2,436.7 L149.0,436.6 L149.8,436.5 L150.6,436.4 L151.4,436.2 L152.2,435.9 L153.0,435.9 L153.8,435.7 L154.6,435.4 L155.4,435.2 L156.2,435.1 L157.0,434.9 L157.8,434.7 L158.6,434.6 L159.4,434.3 L160.2,434.0 L161.0,433.8 L161.8,433.5 L162.6,433.3 L163.4,433.0 L164.2,432.8 L165.0,432.5 L165.8,432.3 L166.6,432.1 L167.4,432.0 L168.2,431.8 L169.0,431.5 L169.8,431.2 L170.6,430.8 L171.4,430.6 L172.2,430.5 L173.0,430.1 L173.8,429.9 L174.6,429.5 L175.4,429.2 L176.2,429.0 L177.0,428.7 L177.8,428.5 L178.6,428.1 L179.4,427.8 L180.2,427.6 L181.0,427.3 L181.8,427.1 L182.6,426.7 L183.4,426.5 L184.2,426.2 L185.0,426.0 L185.8,425.9 L186.6,425.9 L187.4,425.6 L188.2,425.4 L189.0,425.0 L189.8,424.9 L190.6,424.5 L191.4,424.1 L192.2,423.5 L193.0,423.2 L193.8,423.0 L194.6,422.4 L195.4,422.0 L196.2,421.6 L197.0,421.2 L197.8,420.7 L198.6,420.2 L199.4,420.1 L200.2,419.4 L201.0,419.0 L201.8,418.8 L202.6,418.6 L203.4,418.1 L204.2,417.7 L205.0,417.3 L205.8,417.0 L206.6,416.9 L207.4,416.5 L208.2,416.0 L209.0,415.8 L209.8,415.6 L210.6,415.5 L211.4,415.5 L212.2,414.9 L213.0,414.3 L213.8,413.9 L214.6,414.1 L215.4,413.7 L216.2,413.5 L217.0,413.5 L217.8,412.9 L218.6,412.6 L219.4,412.2 L220.2,411.8 L221.0,411.8 L221.8,411.8 L222.6,411.1 L223.4,411.2 L224.2,410.9 L225.0,410.7 L225.8,410.4 L226.6,409.9 L227.4,409.7 L228.2,409.3 L229.0,409.6 L229.8,409.6 L230.6,409.3 L231.4,408.6 L232.2,408.7 L233.0,408.3 L233.8,408.4 L234.6,408.2 L235.4,408.0 L236.2,407.6 L237.0,406.9 L237.8,406.5 L238.6,406.3 L239.4,405.9 L240.2,406.0 L241.0,405.8 L241.8,405.4 L242.6,405.0 L243.4,404.9 L244.2,404.9 L245.0,404.0 L245.8,403.8 L246.6,403.5 L247.4,403.1 L248.2,402.9 L249.0,402.7 L249.8,402.9 L250.6,402.5 L251.4,402.0 L252.2,401.4 L253.0,401.4 L253.8,401.0 L254.6,400.7 L255.4,400.7 L256.2,400.4 L257.0,399.9 L257.8,399.6 L258.6,399.6 L259.4,399.2 L260.2,398.9 L261.0,398.6 L261.8,398.2 L262.6,398.0 L263.4,397.5 L264.2,397.6 L265.0,397.3 L265.8,396.3 L266.6,396.1 L267.4,396.2 L268.2,395.8 L269.0,395.3 L269.8,395.4 L270.6,394.7 L271.4,394.6 L272.2,394.6 L273.0,394.6 L273.8,394.0 L274.6,393.5 L275.4,394.0 L276.2,393.5 L277.0,393.4 L277.8,393.9 L278.6,393.4 L279.4,392.4 L280.2,393.3 L281.0,393.2 L281.8,392.9 L282.6,393.0 L283.4,392.7 L284.2,392.6 L285.0,392.1 L285.8,391.5 L286.6,391.4 L287.4,391.3 L288.2,391.2 L289.0,391.0 L289.8,390.3 L290.6,389.9 L291.4,390.2 L292.2,389.8 L293.0,389.3 L293.8,389.4 L294.6,389.2 L295.4,388.9 L296.2,388.2 L297.0,387.7 L297.8,387.7 L298.6,387.6 L299.4,386.7 L300.2,386.3 L301.0,386.1 L301.8,386.2 L302.6,385.5 L303.4,386.2 L304.2,385.6 L305.0,385.4 L305.8,385.4 L306.6,385.1 L307.4,384.8 L308.2,384.2 L309.0,383.9 L309.8,383.1 L310.6,382.9 L311.4,382.7 L312.2,382.2 L313.0,382.4 L313.8,382.2 L314.6,381.3 L315.4,381.5 L316.2,380.9 L317.0,381.0 L317.8,380.5 L318.6,380.2 L319.4,380.2 L320.2,380.6 L321.0,379.6 L321.8,379.3 L322.6,379.0 L323.4,379.2 L324.2,378.8 L325.0,378.6 L325.8,378.8 L326.6,378.6 L327.4,378.1 L328.2,377.9 L329.0,377.8 L329.8,377.9 L330.6,377.5 L331.4,377.6 L332.2,377.9 L333.0,377.6 L333.8,377.5 L334.6,377.6 L335.4,377.9 L336.2,377.3 L337.0,377.1 L337.8,377.7 L338.6,377.6 L339.4,377.1 L340.2,377.3 L341.0,377.8 L341.8,377.4 L342.6,377.0 L343.4,377.0 L344.2,377.6 L345.0,377.2 L345.8,377.3 L346.6,377.6 L347.4,377.5 L348.2,377.1 L349.0,377.2 L349.8,377.0 L350.6,377.1 L351.4,377.0 L352.2,376.8 L353.0,376.0 L353.8,376.3 L354.6,376.2 L355.4,375.5 L356.2,375.7 L357.0,375.9 L357.8,375.8 L358.6,375.1 L359.4,375.0 L360.2,374.9 L361.0,375.1 L361.8,374.8 L362.6,374.9 L363.4,375.2 L364.2,375.4 L365.0,374.6 L365.8,373.7 L366.6,373.2 L367.4,372.4 L368.2,371.3 L369.0,370.6 L369.8,370.6 L370.6,370.7 L371.4,370.4 L372.2,369.8 L373.0,369.4 L373.8,369.4 L374.6,369.3 L375.4,369.4 L376.2,368.1 L377.0,367.3 L377.8,366.4 L378.6,366.3 L379.4,365.9 L380.2,365.1 L381.0,365.3 L381.8,365.1 L382.6,365.4 L383.4,365.5 L384.2,365.6 L385.0,365.7 L385.8,366.1 L386.6,366.5 L387.4,365.9 L388.2,365.9 L389.0,366.2 L389.8,366.6 L390.6,366.1 L391.4,366.2 L392.2,366.4 L393.0,367.3 L393.8,367.0 L394.6,367.1 L395.4,367.3 L396.2,367.4 L397.0,367.6 L397.8,367.8 L398.6,367.8 L399.4,368.1 L400.2,368.3 L401.0,368.5 L401.8,368.6 L402.6,368.3 L403.4,369.0 L404.2,370.0 L405.0,371.2 L405.8,372.3 L406.6,372.6 L407.4,371.8 L408.2,371.5 L409.0,371.4 L409.8,371.0 L410.6,370.8 L411.4,370.6 L412.2,370.3 L413.0,371.0 L413.8,370.6 L414.6,370.7 L415.4,370.0 L416.2,369.9 L417.0,369.4 L417.8,369.5 L418.6,370.1 L419.4,370.2 L420.2,370.2 L421.0,370.1 L421.8,369.8 L422.6,369.8 L423.4,370.1 L424.2,369.2 L425.0,369.2 L425.8,368.9 L426.6,369.4 L427.4,368.9 L428.2,369.2 L429.0,368.8 L429.8,368.5 L430.6,369.2 L431.4,369.3 L432.2,368.8 L433.0,368.2 L433.8,368.0 L434.6,368.5 L435.4,368.5 L436.2,368.1 L437.0,368.4 L437.8,368.8 L438.6,368.2 L439.4,368.1 L440.2,367.8 L441.0,368.3 L441.8,368.2 L442.6,367.8 L443.4,367.3 L444.2,367.7 L445.0,367.6 L445.8,367.6 L446.6,367.5 L447.4,367.6 L448.2,367.2 L449.0,367.4 L449.8,368.0 L450.6,369.0 L451.4,369.1 L452.2,369.2 L453.0,369.2 L453.8,369.1 L454.6,369.0 L455.4,368.8 L456.2,368.9 L457.0,368.9 L457.8,369.5 L458.6,369.1 L459.4,369.2 L460.2,368.7 L461.0,368.9 L461.8,369.1 L462.6,368.7 L463.4,368.0 L464.2,368.4 L465.0,368.2 L465.8,367.9 L466.6,368.0 L467.4,367.9 L468.2,368.1 L469.0,368.0 L469.8,367.5 L470.6,367.0 L471.4,366.5 L472.2,366.4 L473.0,367.0 L473.8,366.4 L474.6,366.5 L475.4,366.9 L476.2,366.9 L477.0,367.1 L477.8,366.9 L478.6,366.8 L479.4,366.3 L480.2,365.8 L481.0,366.3 L481.8,366.1 L482.6,365.8 L483.4,365.3 L484.2,365.7 L485.0,365.6 L485.8,365.4 L486.6,364.9 L487.4,364.8 L488.2,364.5 L489.0,364.4 L489.8,364.4 L490.6,364.1 L491.4,363.7 L492.2,364.0 L493.0,363.5 L493.8,364.0 L494.6,364.2 L495.4,363.3 L496.2,363.8 L497.0,363.1 L497.8,363.4 L498.6,362.9 L499.4,363.0 L500.2,362.4 L501.0,362.6 L501.8,362.4 L502.6,362.8 L503.4,362.6 L504.2,361.9 L505.0,361.9 L505.8,361.5 L506.6,361.5 L507.4,361.9 L508.2,361.9 L509.0,361.6 L509.8,361.0 L510.6,360.8 L511.4,361.1 L512.2,360.4 L513.0,359.5 L513.8,358.8 L514.6,358.4 L515.4,358.7 L516.2,358.3 L517.0,357.8 L517.8,357.8 L518.6,357.8 L519.4,357.3 L520.2,356.6 L521.0,356.5 L521.8,356.4 L522.6,355.5 L523.4,354.9 L524.2,355.5 L525.0,356.0 L525.8,356.4 L526.6,356.2 L527.4,355.6 L528.2,355.3 L529.0,355.5 L529.8,355.0 L530.6,354.0 L531.4,354.3 L532.2,354.3 L533.0,353.9 L533.8,352.8 L534.6,352.2 L535.4,351.8 L536.2,351.6 L537.0,351.8 L537.8,350.7 L538.6,350.2 L539.4,350.1 L540.2,349.8 L541.0,349.6 L541.8,349.1 L542.6,349.2 L543.4,349.1 L544.2,349.1 L545.0,349.2 L545.8,348.9 L546.6,348.6 L547.4,348.5 L548.2,348.2 L549.0,348.1 L549.8,347.3 L550.6,347.1 L551.4,347.4 L552.2,347.3 L553.0,347.4 L553.8,346.7 L554.6,346.5 L555.4,346.4 L556.2,346.2 L557.0,346.0 L557.8,346.3 L558.6,345.8 L559.4,345.4 L560.2,345.4 L561.0,345.3 L561.8,345.0 L562.6,345.3 L563.4,345.0 L564.2,344.5 L565.0,343.8 L565.8,344.1 L566.6,343.5 L567.4,343.4 L568.2,343.0 L569.0,343.5 L569.8,343.2 L570.6,342.1 L571.4,342.1 L572.2,341.4 L573.0,341.2 L573.8,341.4 L574.6,340.7 L575.4,340.8 L576.2,340.6 L577.0,340.6 L577.8,340.0 L578.6,340.0 L579.4,339.6 L580.2,339.7 L581.0,339.3 L581.8,339.1 L582.6,339.1 L583.4,338.9 L584.2,338.3 L585.0,338.1 L585.8,337.6 L586.6,337.3 L587.4,337.5 L588.2,336.6 L589.0,335.9 L589.8,335.9 L590.6,335.4 L591.4,335.4 L592.2,334.9 L593.0,334.2 L593.8,333.3 L594.6,332.3 L595.4,331.3 L596.2,330.6 L597.0,330.0 L597.8,329.3 L598.6,329.5 L599.4,329.3 L600.2,328.4 L601.0,327.6 L601.8,327.7 L602.6,327.1 L603.4,326.5 L604.2,326.2 L605.0,325.9 L605.8,326.3 L606.6,326.2 L607.4,326.2 L608.2,325.9 L609.0,325.6 L609.8,324.9 L610.6,324.5 L611.4,324.0 L612.2,323.8 L613.0,323.5 L613.8,323.4 L614.6,323.8 L615.4,323.0 L616.2,323.0 L617.0,322.3 L617.8,321.7 L618.6,322.0 L619.4,321.7 L620.2,321.5 L621.0,321.7 L621.8,320.8 L622.6,320.6 L623.4,320.9 L624.2,320.1 L625.0,320.0 L625.8,320.0 L626.6,319.9 L627.4,319.6 L628.2,319.4 L629.0,319.1 L629.8,318.8 L630.6,318.5 L631.4,317.7 L632.2,317.5 L633.0,317.2 L633.8,317.3 L634.6,317.1 L635.4,316.8 L636.2,316.4 L637.0,316.0 L637.8,315.2 L638.6,314.7 L639.4,314.0 L640.2,313.4 L641.0,312.7 L641.8,313.1 L642.6,312.6 L643.4,311.6 L644.2,311.0 L645.0,310.7 L645.8,310.0 L646.6,309.9 L647.4,309.6 L648.2,309.5 L649.0,307.9 L649.8,308.1 L650.6,307.9 L651.4,307.8 L652.2,307.1 L653.0,306.5 L653.8,305.8 L654.0,306.2 L654.0,447.0 L49.0,447.0 Z" fill="#45b3f7"/>
<path d="M49.0,445.0 L49.8,445.0 L50.6,445.0 L51.4,445.0 L52.2,445.0 L53.0,444.9 L53.8,444.9 L54.6,444.9 L55.4,444.9 L56.2,444.9 L57.0,444.9 L57.8,444.9 L58.6,444.9 L59.4,444.9 L60.2,444.9 L61.0,444.9 L61.8,444.9 L62.6,444.9 L63.4,444.9 L64.2,444.9 L65.0,444.8 L65.8,444.8 L66.6,444.8 L67.4,444.8 L68.2,444.8 L69.0,444.8 L69.8,444.8 L70.6,444.7 L71.4,444.7 L72.2,444.6 L73.0,444.6 L73.8,444.6 L74.6,444.5 L75.4,444.5 L76.2,444.4 L77.0,444.4 L77.8,444.4 L78.6,444.4 L79.4,444.3 L80.2,444.3 L81.0,444.2 L81.8,444.2 L82.6,444.1 L83.4,444.1 L84.2,444.1 L85.0,444.0 L85.8,444.0 L86.6,444.0 L87.4,443.9 L88.2,443.9 L89.0,443.9 L89.8,443.8 L90.6,443.8 L91.4,443.7 L92.2,443.7 L93.0,443.6 L93.8,443.6 L94.6,443.5 L95.4,443.5 L96.2,443.5 L97.0,443.5 L97.8,443.4 L98.6,443.4 L99.4,443.3 L100.2,443.3 L101.0,443.2 L101.8,443.2 L102.6,443.1 L103.4,443.1 L104.2,443.1 L105.0,443.0 L105.8,443.0 L106.6,443.0 L107.4,442.9 L108.2,442.9 L109.0,442.8 L109.8,442.7 L110.6,442.7 L111.4,442.7 L112.2,442.6 L113.0,442.5 L113.8,442.4 L114.6,442.2 L115.4,442.1 L116.2,441.9 L117.0,441.9 L117.8,441.7 L118.6,441.6 L119.4,441.5 L120.2,441.4 L121.0,441.2 L121.8,441.1 L122.6,441.0 L123.4,440.8 L124.2,440.8 L125.0,440.6 L125.8,440.5 L126.6,440.3 L127.4,440.2 L128.2,440.1 L129.0,440.0 L129.8,439.8 L130.6,439.7 L131.4,439.5 L132.2,439.5 L133.0,439.3 L133.8,439.1 L134.6,438.9 L135.4,438.8 L136.2,438.7 L137.0,438.6 L137.8,438.5 L138.6,438.2 L139.4,438.1 L140.2,437.9 L141.0,437.8 L141.8,437.8 L142.6,437.6 L143.4,437.5 L144.2,437.3 L145.0,437.2 L145.8,437.2 L146.6,437.0 L147.4,436.8 L148.2,436.7 L149.0,436.6 L149.8,436.5" fill="none" stroke="#fff" stroke-width="0.6" stroke-linejoin="round"/>
<path d="M150.6,436.4 L151.4,436.2 L152.2,435.9 L153.0,435.9 L153.8,435.7 L154.6,435.4 L155.4,435.2 L156.2,435.1 L157.0,434.9 L157.8,434.7 L158.6,434.6 L159.4,434.3 L160.2,434.0 L161.0,433.8 L161.8,433.5 L162.6,433.3 L163.4,433.0 L164.2,432.8 L165.0,432.5 L165.8,432.3 L166.6,432.1 L167.4,432.0 L168.2,431.8 L169.0,431.5 L169.8,431.2 L170.6,430.8 L171.4,430.6 L172.2,430.5 L173.0,430.1 L173.8,429.9 L174.6,429.5 L175.4,429.2 L176.2,429.0 L177.0,428.7 L177.8,428.5 L178.6,428.1 L179.4,427.8 L180.2,427.6 L181.0,427.3 L181.8,427.1 L182.6,426.7 L183.4,426.5 L184.2,426.2 L185.0,426.0 L185.8,425.9 L186.6,425.9 L187.4,425.6 L188.2,425.4 L189.0,425.0 L189.8,424.9 L190.6,424.5 L191.4,424.1 L192.2,423.5 L193.0,423.2 L193.8,423.0 L194.6,422.4 L195.4,422.0 L196.2,421.6 L197.0,421.2 L197.8,420.7 L198.6,420.2 L199.4,420.1 L200.2,419.4 L201.0,419.0 L201.8,418.8 L202.6,418.6 L203.4,418.1 L204.2,417.7 L205.0,417.3 L205.8,417.0 L206.6,416.9 L207.4,416.5 L208.2,416.0 L209.0,415.8 L209.8,415.6 L210.6,415.5 L211.4,415.5 L212.2,414.9 L213.0,414.3 L213.8,413.9 L214.6,414.1 L215.4,413.7 L216.2,413.5 L217.0,413.5 L217.8,412.9 L218.6,412.6 L219.4,412.2 L220.2,411.8 L221.0,411.8 L221.8,411.8 L222.6,411.1 L223.4,411.2 L224.2,410.9 L225.0,410.7 L225.8,410.4 L226.6,409.9 L227.4,409.7 L228.2,409.3 L229.0,409.6 L229.8,409.6 L230.6,409.3 L231.4,408.6 L232.2,408.7 L233.0,408.3 L233.8,408.4 L234.6,408.2 L235.4,408.0 L236.2,407.6 L237.0,406.9 L237.8,406.5 L238.6,406.3 L239.4,405.9 L240.2,406.0 L241.0,405.8 L241.8,405.4 L242.6,405.0 L243.4,404.9 L244.2,404.9 L245.0,404.0 L245.8,403.8 L246.6,403.5 L247.4,403.1 L248.2,402.9 L249.0,402.7 L249.8,402.9 L250.6,402.5 L251.4,402.0 L252.2,401.4 L253.0,401.4 L253.8,401.0 L254.6,400.7 L255.4,400.7 L256.2,400.4 L257.0,399.9 L257.8,399.6 L258.6,399.6 L259.4,399.2 L260.2,398.9 L261.0,398.6 L261.8,398.2 L262.6,398.0 L263.4,397.5 L264.2,397.6 L265.0,397.3 L265.8,396.3 L266.6,396.1 L267.4,396.2 L268.2,395.8 L269.0,395.3 L269.8,395.4 L270.6,394.7 L271.4,394.6 L272.2,394.6 L273.0,394.6 L273.8,394.0 L274.6,393.5 L275.4,394.0 L276.2,393.5 L277.0,393.4 L277.8,393.9 L278.6,393.4 L279.4,392.4 L280.2,393.3 L281.0,393.2 L281.8,392.9 L282.6,393.0 L283.4,392.7 L284.2,392.6 L285.0,392.1 L285.8,391.5 L286.6,391.4 L287.4,391.3 L288.2,391.2 L289.0,391.0 L289.8,390.3 L290.6,389.9 L291.4,390.2 L292.2,389.8 L293.0,389.3 L293.8,389.4 L294.6,389.2 L295.4,388.9 L296.2,388.2 L297.0,387.7 L297.8,387.7 L298.6,387.6 L299.4,386.7 L300.2,386.3 L301.0,386.1 L301.8,386.2 L302.6,385.5 L303.4,386.2 L304.2,385.6 L305.0,385.4 L305.8,385.4 L306.6,385.1 L307.4,384.8 L308.2,384.2 L309.0,383.9 L309.8,383.1 L310.6,382.9 L311.4,382.7 L312.2,382.2 L313.0,382.4 L313.8,382.2 L314.6,381.3 L315.4,381.5 L316.2,380.9 L317.0,381.0 L317.8,380.5 L318.6,380.2 L319.4,380.2 L320.2,380.6 L321.0,379.6 L321.8,379.3 L322.6,379.0 L323.4,379.2 L324.2,378.8 L325.0,378.6 L325.8,378.8 L326.6,378.6 L327.4,378.1 L328.2,377.9 L329.0,377.8 L329.8,377.9 L330.6,377.5 L331.4,377.6 L332.2,377.9 L333.0,377.6 L333.8,377.5 L334.6,377.6 L335.4,377.9 L336.2,377.3 L337.0,377.1 L337.8,377.7 L338.6,377.6 L339.4,377.1 L340.2,377.3 L341.0,377.8 L341.8,377.4 L342.6,377.0 L343.4,377.0 L344.2,377.6 L345.0,377.2 L345.8,377.3 L346.6,377.6 L347.4,377.5 L348.2,377.1 L349.0,377.2 L349.8,377.0 L350.6,377.1 L351.4,377.0 L352.2,376.8 L353.0,376.0 L353.8,376.3 L354.6,376.2 L355.4,375.5 L356.2,375.7 L357.0,375.9 L357.8,375.8 L358.6,375.1 L359.4,375.0 L360.2,374.9 L361.0,375.1 L361.8,374.8 L362.6,374.9 L363.4,375.2 L364.2,375.4 L365.0,374.6 L365.8,373.7 L366.6,373.2 L367.4,372.4 L368.2,371.3 L369.0,370.6 L369.8,370.6 L370.6,370.7 L371.4,370.4 L372.2,369.8 L373.0,369.4 L373.8,369.4 L374.6,369.3 L375.4,369.4 L376.2,368.1 L377.0,367.3 L377.8,366.4 L378.6,366.3 L379.4,365.9 L380.2,365.1 L381.0,365.3 L381.8,365.1 L382.6,365.4 L383.4,365.5 L384.2,365.6 L385.0,365.7 L385.8,366.1 L386.6,366.5 L387.4,365.9 L388.2,365.9 L389.0,366.2 L389.8,366.6 L390.6,366.1 L391.4,366.2 L392.2,366.4 L393.0,367.3 L393.8,367.0 L394.6,367.1 L395.4,367.3 L396.2,367.4 L397.0,367.6 L397.8,367.8 L398.6,367.8 L399.4,368.1 L400.2,368.3 L401.0,368.5 L401.8,368.6 L402.6,368.3 L403.4,369.0 L404.2,370.0 L405.0,371.2 L405.8,372.3 L406.6,372.6 L407.4,371.8 L408.2,371.5 L409.0,371.4 L409.8,371.0 L410.6,370.8 L411.4,370.6 L412.2,370.3 L413.0,371.0 L413.8,370.6 L414.6,370.7 L415.4,370.0 L416.2,369.9 L417.0,369.4 L417.8,369.5 L418.6,370.1 L419.4,370.2 L420.2,370.2 L421.0,370.1 L421.8,369.8 L422.6,369.8 L423.4,370.1 L424.2,369.2 L425.0,369.2 L425.8,368.9 L426.6,369.4 L427.4,368.9 L428.2,369.2 L429.0,368.8 L429.8,368.5 L430.6,369.2 L431.4,369.3 L432.2,368.8 L433.0,368.2 L433.8,368.0 L434.6,368.5 L435.4,368.5 L436.2,368.1 L437.0,368.4 L437.8,368.8 L438.6,368.2 L439.4,368.1 L440.2,367.8 L441.0,368.3 L441.8,368.2 L442.6,367.8 L443.4,367.3 L444.2,367.7 L445.0,367.6 L445.8,367.6 L446.6,367.5 L447.4,367.6 L448.2,367.2 L449.0,367.4 L449.8,368.0 L450.6,369.0 L451.4,369.1 L452.2,369.2 L453.0,369.2 L453.8,369.1 L454.6,369.0 L455.4,368.8 L456.2,368.9 L457.0,368.9 L457.8,369.5 L458.6,369.1 L459.4,369.2 L460.2,368.7 L461.0,368.9 L461.8,369.1 L462.6,368.7 L463.4,368.0 L464.2,368.4 L465.0,368.2 L465.8,367.9 L466.6,368.0 L467.4,367.9 L468.2,368.1 L469.0,368.0 L469.8,367.5 L470.6,367.0 L471.4,366.5 L472.2,366.4 L473.0,367.0 L473.8,366.4 L474.6,366.5 L475.4,366.9 L476.2,366.9 L477.0,367.1 L477.8,366.9 L478.6,366.8 L479.4,366.3 L480.2,365.8 L481.0,366.3 L481.8,366.1 L482.6,365.8 L483.4,365.3 L484.2,365.7 L485.0,365.6 L485.8,365.4 L486.6,364.9 L487.4,364.8 L488.2,364.5 L489.0,364.4 L489.8,364.4 L490.6,364.1 L491.4,363.7 L492.2,364.0 L493.0,363.5 L493.8,364.0 L494.6,364.2 L495.4,363.3 L496.2,363.8 L497.0,363.1 L497.8,363.4 L498.6,362.9 L499.4,363.0 L500.2,362.4 L501.0,362.6 L501.8,362.4 L502.6,362.8 L503.4,362.6 L504.2,361.9 L505.0,361.9 L505.8,361.5 L506.6,361.5 L507.4,361.9 L508.2,361.9 L509.0,361.6 L509.8,361.0 L510.6,360.8 L511.4,361.1 L512.2,360.4 L513.0,359.5 L513.8,358.8 L514.6,358.4 L515.4,358.7 L516.2,358.3 L517.0,357.8 L517.8,357.8 L518.6,357.8 L519.4,357.3 L520.2,356.6 L521.0,356.5 L521.8,356.4 L522.6,355.5 L523.4,354.9 L524.2,355.5 L525.0,356.0 L525.8,356.4 L526.6,356.2 L527.4,355.6 L528.2,355.3 L529.0,355.5 L529.8,355.0 L530.6,354.0 L531.4,354.3 L532.2,354.3 L533.0,353.9 L533.8,352.8 L534.6,352.2 L535.4,351.8 L536.2,351.6 L537.0,351.8 L537.8,350.7 L538.6,350.2 L539.4,350.1 L540.2,349.8 L541.0,349.6 L541.8,349.1 L542.6,349.2 L543.4,349.1 L544.2,349.1 L545.0,349.2 L545.8,348.9 L546.6,348.6 L547.4,348.5 L548.2,348.2 L549.0,348.1 L549.8,347.3 L550.6,347.1 L551.4,347.4 L552.2,347.3 L553.0,347.4 L553.8,346.7 L554.6,346.5 L555.4,346.4 L556.2,346.2 L557.0,346.0 L557.8,346.3 L558.6,345.8 L559.4,345.4 L560.2,345.4 L561.0,345.3 L561.8,345.0 L562.6,345.3 L563.4,345.0 L564.2,344.5 L565.0,343.8 L565.8,344.1 L566.6,343.5 L567.4,343.4 L568.2,343.0 L569.0,343.5 L569.8,343.2 L570.6,342.1 L571.4,342.1 L572.2,341.4 L573.0,341.2 L573.8,341.4 L574.6,340.7 L575.4,340.8 L576.2,340.6 L577.0,340.6 L577.8,340.0 L578.6,340.0 L579.4,339.6 L580.2,339.7 L581.0,339.3 L581.8,339.1 L582.6,339.1 L583.4,338.9 L584.2,338.3 L585.0,338.1 L585.8,337.6 L586.6,337.3 L587.4,337.5 L588.2,336.6 L589.0,335.9 L589.8,335.9 L590.6,335.4 L591.4,335.4 L592.2,334.9 L593.0,334.2 L593.8,333.3 L594.6,332.3 L595.4,331.3 L596.2,330.6 L597.0,330.0 L597.8,329.3 L598.6,329.5 L599.4,329.3 L600.2,328.4 L601.0,327.6 L601.8,327.7 L602.6,327.1 L603.4,326.5 L604.2,326.2 L605.0,325.9 L605.8,326.3 L606.6,326.2 L607.4,326.2 L608.2,325.9 L609.0,325.6 L609.8,324.9 L610.6,324.5 L611.4,324.0 L612.2,323.8 L613.0,323.5 L613.8,323.4 L614.6,323.8 L615.4,323.0 L616.2,323.0 L617.0,322.3 L617.8,321.7 L618.6,322.0 L619.4,321.7 L620.2,321.5 L621.0,321.7 L621.8,320.8 L622.6,320.6 L623.4,320.9 L624.2,320.1 L625.0,320.0 L625.8,320.0 L626.6,319.9 L627.4,319.6 L628.2,319.4 L629.0,319.1 L629.8,318.8 L630.6,318.5 L631.4,317.7 L632.2,317.5 L633.0,317.2 L633.8,317.3 L634.6,317.1 L635.4,316.8 L636.2,316.4 L637.0,316.0 L637.8,315.2 L638.6,314.7 L639.4,314.0 L640.2,313.4 L641.0,312.7 L641.8,313.1 L642.6,312.6 L643.4,311.6 L644.2,311.0 L645.0,310.7 L645.8,310.0 L646.6,309.9 L647.4,309.6 L648.2,309.5 L649.0,307.9 L649.8,308.1 L650.6,307.9 L651.4,307.8 L652.2,307.1 L653.0,306.5 L653.8,305.8 L654.0,306.2" fill="none" stroke="#fff" stroke-width="1.35" stroke-linejoin="round"/>
<path d="M49.0,445.6 L49.8,445.6 L50.6,445.6 L51.4,445.6 L52.2,445.6 L53.0,445.6 L53.8,445.6 L54.6,445.5 L55.4,445.5 L56.2,445.5 L57.0,445.5 L57.8,445.5 L58.6,445.5 L59.4,445.5 L60.2,445.5 L61.0,445.5 L61.8,445.5 L62.6,445.5 L63.4,445.5 L64.2,445.5 L65.0,445.4 L65.8,445.4 L66.6,445.4 L67.4,445.4 L68.2,445.4 L69.0,445.4 L69.8,445.4 L70.6,445.4 L71.4,445.4 L72.2,445.4 L73.0,445.3 L73.8,445.3 L74.6,445.3 L75.4,445.3 L76.2,445.3 L77.0,445.3 L77.8,445.2 L78.6,445.2 L79.4,445.2 L80.2,445.2 L81.0,445.2 L81.8,445.2 L82.6,445.1 L83.4,445.1 L84.2,445.1 L85.0,445.1 L85.8,445.1 L86.6,445.1 L87.4,445.1 L88.2,445.0 L89.0,445.0 L89.8,445.0 L90.6,445.0 L91.4,445.0 L92.2,444.9 L93.0,444.9 L93.8,444.9 L94.6,444.9 L95.4,444.9 L96.2,444.9 L97.0,444.8 L97.8,444.8 L98.6,444.8 L99.4,444.8 L100.2,444.8 L101.0,444.8 L101.8,444.7 L102.6,444.7 L103.4,444.7 L104.2,444.7 L105.0,444.7 L105.8,444.7 L106.6,444.6 L107.4,444.6 L108.2,444.6 L109.0,444.6 L109.8,444.6 L110.6,444.5 L111.4,444.5 L112.2,444.5 L113.0,444.5 L113.8,444.5 L114.6,444.4 L115.4,444.4 L116.2,444.3 L117.0,444.3 L117.8,444.3 L118.6,444.2 L119.4,444.2 L120.2,444.1 L121.0,444.1 L121.8,444.1 L122.6,444.0 L123.4,444.0 L124.2,444.0 L125.0,443.9 L125.8,443.9 L126.6,443.9 L127.4,443.8 L128.2,443.8 L129.0,443.8 L129.8,443.7 L130.6,443.7 L131.4,443.6 L132.2,443.6 L133.0,443.6 L133.8,443.5 L134.6,443.5 L135.4,443.5 L136.2,443.4 L137.0,443.4 L137.8,443.3 L138.6,443.3 L139.4,443.3 L140.2,443.2 L141.0,443.2 L141.8,443.1 L142.6,443.1 L143.4,443.0 L144.2,443.0 L145.0,443.0 L145.8,442.9 L146.6,442.9 L147.4,442.8 L148.2,442.7 L149.0,442.7 L149.8,442.6 L150.6,442.6 L151.4,442.5 L152.2,442.5 L153.0,442.5 L153.8,442.4 L154.6,442.4 L155.4,442.3 L156.2,442.3 L157.0,442.2 L157.8,442.2 L158.6,442.2 L159.4,442.1 L160.2,442.1 L161.0,442.0 L161.8,441.9 L162.6,441.8 L163.4,441.7 L164.2,441.6 L165.0,441.5 L165.8,441.4 L166.6,441.3 L167.4,441.2 L168.2,441.1 L169.0,441.0 L169.8,441.0 L170.6,440.8 L171.4,440.8 L172.2,440.7 L173.0,440.6 L173.8,440.5 L174.6,440.4 L175.4,440.3 L176.2,440.2 L177.0,440.1 L177.8,440.0 L178.6,439.9 L179.4,439.8 L180.2,439.7 L181.0,439.7 L181.8,439.6 L182.6,439.5 L183.4,439.4 L184.2,439.3 L185.0,439.2 L185.8,439.2 L186.6,439.1 L187.4,439.0 L188.2,439.0 L189.0,438.9 L189.8,438.8 L190.6,438.6 L191.4,438.5 L192.2,438.3 L193.0,438.2 L193.8,438.0 L194.6,437.8 L195.4,437.7 L196.2,437.5 L197.0,437.3 L197.8,437.2 L198.6,437.0 L199.4,436.8 L200.2,436.7 L201.0,436.5 L201.8,436.4 L202.6,436.3 L203.4,436.2 L204.2,436.1 L205.0,436.0 L205.8,435.9 L206.6,435.8 L207.4,435.8 L208.2,435.7 L209.0,435.6 L209.8,435.5 L210.6,435.4 L211.4,435.3 L212.2,435.2 L213.0,435.2 L213.8,435.1 L214.6,435.1 L215.4,434.9 L216.2,434.9 L217.0,434.7 L217.8,434.5 L218.6,434.4 L219.4,434.3 L220.2,434.2 L221.0,434.1 L221.8,433.9 L222.6,433.9 L223.4,433.7 L224.2,433.6 L225.0,433.5 L225.8,433.3 L226.6,433.2 L227.4,433.2 L228.2,433.0 L229.0,432.9 L229.8,432.8 L230.6,432.6 L231.4,432.6 L232.2,432.5 L233.0,432.3 L233.8,432.1 L234.6,432.0 L235.4,432.0 L236.2,431.8 L237.0,431.7 L237.8,431.5 L238.6,431.5 L239.4,431.3 L240.2,431.1 L241.0,431.0 L241.8,430.9 L242.6,430.8 L243.4,430.7 L244.2,430.6 L245.0,430.5 L245.8,430.3 L246.6,430.2 L247.4,430.1 L248.2,430.0 L249.0,429.9 L249.8,429.8 L250.6,429.7 L251.4,429.6 L252.2,429.5 L253.0,429.4 L253.8,429.2 L254.6,429.2 L255.4,428.9 L256.2,428.8 L257.0,428.7 L257.8,428.6 L258.6,428.5 L259.4,428.3 L260.2,428.2 L261.0,428.1 L261.8,428.0 L262.6,427.9 L263.4,427.8 L264.2,427.7 L265.0,427.6 L265.8,427.5 L266.6,427.3 L267.4,427.2 L268.2,427.2 L269.0,427.0 L269.8,426.9 L270.6,426.8 L271.4,426.8 L272.2,426.6 L273.0,426.5 L273.8,426.3 L274.6,426.3 L275.4,426.3 L276.2,426.1 L277.0,426.1 L277.8,425.9 L278.6,425.9 L279.4,425.6 L280.2,425.6 L281.0,425.5 L281.8,425.4 L282.6,425.3 L283.4,425.2 L284.2,425.2 L285.0,425.1 L285.8,425.0 L286.6,424.9 L287.4,424.8 L288.2,424.7 L289.0,424.6 L289.8,424.7 L290.6,424.6 L291.4,424.4 L292.2,424.2 L293.0,424.2 L293.8,424.1 L294.6,423.9 L295.4,423.7 L296.2,423.8 L297.0,423.7 L297.8,423.5 L298.6,423.4 L299.4,423.4 L300.2,423.3 L301.0,423.1 L301.8,423.1 L302.6,423.0 L303.4,422.7 L304.2,422.6 L305.0,422.5 L305.8,422.4 L306.6,422.3 L307.4,422.2 L308.2,422.0 L309.0,421.9 L309.8,421.9 L310.6,421.8 L311.4,421.7 L312.2,421.5 L313.0,421.6 L313.8,421.4 L314.6,421.3 L315.4,421.3 L316.2,421.2 L317.0,421.2 L317.8,421.1 L318.6,421.0 L319.4,420.9 L320.2,420.8 L321.0,420.9 L321.8,420.7 L322.6,420.7 L323.4,420.6 L324.2,420.5 L325.0,420.5 L325.8,420.4 L326.6,420.4 L327.4,420.4 L328.2,420.4 L329.0,420.2 L329.8,420.3 L330.6,420.3 L331.4,420.2 L332.2,420.1 L333.0,420.0 L333.8,420.0 L334.6,419.9 L335.4,419.8 L336.2,419.7 L337.0,419.7 L337.8,419.6 L338.6,419.5 L339.4,419.6 L340.2,419.5 L341.0,419.6 L341.8,419.4 L342.6,419.3 L343.4,419.2 L344.2,419.1 L345.0,419.0 L345.8,418.9 L346.6,419.0 L347.4,418.8 L348.2,418.9 L349.0,418.8 L349.8,418.6 L350.6,418.7 L351.4,418.5 L352.2,418.4 L353.0,418.3 L353.8,418.4 L354.6,418.3 L355.4,418.3 L356.2,418.2 L357.0,418.1 L357.8,418.0 L358.6,417.9 L359.4,417.7 L360.2,417.6 L361.0,417.7 L361.8,417.5 L362.6,417.5 L363.4,417.3 L364.2,417.0 L365.0,416.9 L365.8,416.8 L366.6,416.5 L367.4,416.4 L368.2,416.2 L369.0,415.9 L369.8,415.7 L370.6,415.6 L371.4,415.3 L372.2,415.1 L373.0,414.9 L373.8,414.6 L374.6,414.3 L375.4,414.2 L376.2,414.0 L377.0,413.8 L377.8,413.6 L378.6,413.6 L379.4,413.6 L380.2,413.7 L381.0,413.7 L381.8,413.8 L382.6,413.8 L383.4,413.8 L384.2,413.7 L385.0,413.9 L385.8,413.7 L386.6,413.8 L387.4,413.9 L388.2,413.8 L389.0,413.7 L389.8,413.7 L390.6,413.8 L391.4,413.9 L392.2,413.9 L393.0,413.7 L393.8,413.7 L394.6,413.7 L395.4,413.7 L396.2,413.9 L397.0,414.3 L397.8,414.2 L398.6,414.5 L399.4,414.5 L400.2,414.6 L401.0,414.8 L401.8,414.8 L402.6,415.0 L403.4,415.3 L404.2,415.5 L405.0,415.6 L405.8,415.5 L406.6,415.4 L407.4,415.4 L408.2,415.4 L409.0,415.5 L409.8,415.3 L410.6,415.4 L411.4,415.2 L412.2,415.1 L413.0,415.0 L413.8,415.0 L414.6,415.0 L415.4,414.8 L416.2,414.8 L417.0,414.9 L417.8,414.8 L418.6,414.9 L419.4,414.7 L420.2,414.8 L421.0,414.7 L421.8,414.7 L422.6,414.5 L423.4,414.5 L424.2,414.5 L425.0,414.6 L425.8,414.4 L426.6,414.5 L427.4,414.4 L428.2,414.5 L429.0,414.5 L429.8,414.3 L430.6,414.5 L431.4,414.3 L432.2,414.3 L433.0,414.3 L433.8,414.3 L434.6,414.3 L435.4,414.3 L436.2,414.3 L437.0,414.2 L437.8,414.1 L438.6,414.0 L439.4,414.1 L440.2,414.0 L441.0,414.0 L441.8,413.8 L442.6,413.8 L443.4,413.7 L444.2,413.9 L445.0,413.7 L445.8,413.8 L446.6,413.9 L447.4,413.9 L448.2,413.9 L449.0,413.9 L449.8,413.9 L450.6,413.9 L451.4,413.8 L452.2,413.7 L453.0,413.5 L453.8,413.5 L454.6,413.6 L455.4,413.5 L456.2,413.3 L457.0,413.3 L457.8,413.4 L458.6,413.5 L459.4,413.2 L460.2,413.3 L461.0,413.1 L461.8,413.2 L462.6,412.9 L463.4,413.0 L464.2,413.0 L465.0,413.0 L465.8,412.9 L466.6,412.8 L467.4,412.9 L468.2,412.8 L469.0,412.7 L469.8,412.8 L470.6,412.7 L471.4,412.6 L472.2,412.7 L473.0,412.6 L473.8,412.5 L474.6,412.6 L475.4,412.6 L476.2,412.6 L477.0,412.6 L477.8,412.5 L478.6,412.3 L479.4,412.4 L480.2,412.4 L481.0,412.3 L481.8,412.3 L482.6,412.1 L483.4,411.9 L484.2,412.1 L485.0,412.0 L485.8,412.0 L486.6,412.1 L487.4,412.1 L488.2,411.9 L489.0,411.7 L489.8,411.5 L490.6,411.6 L491.4,411.6 L492.2,411.6 L493.0,411.6 L493.8,411.5 L494.6,411.4 L495.4,411.3 L496.2,411.5 L497.0,411.4 L497.8,411.4 L498.6,411.3 L499.4,411.3 L500.2,411.3 L501.0,411.1 L501.8,411.0 L502.6,411.2 L503.4,411.0 L504.2,410.9 L505.0,410.8 L505.8,410.6 L506.6,410.6 L507.4,410.5 L508.2,410.4 L509.0,410.1 L509.8,410.1 L510.6,410.1 L511.4,410.1 L512.2,409.9 L513.0,410.0 L513.8,409.8 L514.6,409.8 L515.4,409.7 L516.2,409.7 L517.0,409.3 L517.8,409.2 L518.6,409.0 L519.4,408.7 L520.2,408.6 L521.0,408.4 L521.8,408.3 L522.6,408.1 L523.4,407.9 L524.2,407.8 L525.0,407.8 L525.8,407.6 L526.6,407.4 L527.4,407.3 L528.2,407.4 L529.0,407.1 L529.8,407.0 L530.6,407.1 L531.4,406.6 L532.2,406.3 L533.0,406.2 L533.8,406.1 L534.6,405.9 L535.4,405.9 L536.2,405.8 L537.0,405.5 L537.8,405.5 L538.6,405.2 L539.4,405.2 L540.2,405.1 L541.0,405.3 L541.8,405.2 L542.6,405.0 L543.4,404.9 L544.2,404.8 L545.0,404.6 L545.8,404.4 L546.6,404.6 L547.4,404.7 L548.2,404.5 L549.0,404.4 L549.8,404.2 L550.6,404.3 L551.4,404.4 L552.2,404.1 L553.0,404.0 L553.8,403.9 L554.6,403.9 L555.4,403.9 L556.2,404.0 L557.0,403.8 L557.8,403.6 L558.6,403.6 L559.4,403.6 L560.2,403.5 L561.0,403.4 L561.8,403.4 L562.6,403.4 L563.4,403.3 L564.2,403.2 L565.0,403.2 L565.8,402.9 L566.6,403.0 L567.4,402.9 L568.2,402.9 L569.0,402.6 L569.8,402.4 L570.6,402.4 L571.4,402.1 L572.2,402.1 L573.0,402.0 L573.8,401.9 L574.6,401.9 L575.4,401.6 L576.2,401.6 L577.0,401.6 L577.8,401.7 L578.6,401.7 L579.4,401.6 L580.2,401.5 L581.0,401.0 L581.8,401.1 L582.6,401.1 L583.4,401.1 L584.2,400.9 L585.0,400.7 L585.8,400.6 L586.6,400.5 L587.4,400.5 L588.2,400.4 L589.0,400.3 L589.8,400.0 L590.6,400.2 L591.4,399.9 L592.2,399.4 L593.0,399.4 L593.8,399.3 L594.6,399.0 L595.4,398.9 L596.2,398.6 L597.0,398.2 L597.8,398.0 L598.6,397.6 L599.4,397.3 L600.2,397.0 L601.0,396.9 L601.8,396.9 L602.6,396.5 L603.4,396.3 L604.2,395.9 L605.0,395.7 L605.8,395.8 L606.6,395.8 L607.4,395.8 L608.2,395.7 L609.0,395.2 L609.8,395.1 L610.6,394.7 L611.4,394.6 L612.2,394.7 L613.0,394.5 L613.8,394.3 L614.6,394.3 L615.4,394.3 L616.2,394.1 L617.0,393.9 L617.8,393.8 L618.6,393.7 L619.4,393.6 L620.2,393.5 L621.0,393.3 L621.8,393.0 L622.6,392.9 L623.4,392.8 L624.2,392.7 L625.0,392.6 L625.8,392.3 L626.6,392.5 L627.4,392.3 L628.2,392.2 L629.0,392.1 L629.8,391.9 L630.6,391.7 L631.4,391.6 L632.2,391.4 L633.0,391.1 L633.8,390.9 L634.6,390.5 L635.4,390.4 L636.2,390.3 L637.0,390.0 L637.8,390.0 L638.6,389.8 L639.4,389.4 L640.2,389.2 L641.0,389.1 L641.8,388.9 L642.6,388.7 L643.4,388.6 L644.2,388.2 L645.0,388.1 L645.8,388.0 L646.6,387.8 L647.4,387.8 L648.2,387.7 L649.0,387.4 L649.8,386.8 L650.6,386.9 L651.4,387.0 L652.2,386.5 L653.0,386.4 L653.8,386.3 L654.0,386.2 L654.0,447.0 L49.0,447.0 Z" fill="#5de79d"/>
<path d="M49.0,445.6 L49.8,445.6 L50.6,445.6 L51.4,445.6 L52.2,445.6 L53.0,445.6 L53.8,445.6 L54.6,445.5 L55.4,445.5 L56.2,445.5 L57.0,445.5 L57.8,445.5 L58.6,445.5 L59.4,445.5 L60.2,445.5 L61.0,445.5 L61.8,445.5 L62.6,445.5 L63.4,445.5 L64.2,445.5 L65.0,445.4 L65.8,445.4 L66.6,445.4 L67.4,445.4 L68.2,445.4 L69.0,445.4 L69.8,445.4 L70.6,445.4 L71.4,445.4 L72.2,445.4 L73.0,445.3 L73.8,445.3 L74.6,445.3 L75.4,445.3 L76.2,445.3 L77.0,445.3 L77.8,445.2 L78.6,445.2 L79.4,445.2 L80.2,445.2 L81.0,445.2 L81.8,445.2 L82.6,445.1 L83.4,445.1 L84.2,445.1 L85.0,445.1 L85.8,445.1 L86.6,445.1 L87.4,445.1 L88.2,445.0 L89.0,445.0 L89.8,445.0 L90.6,445.0 L91.4,445.0 L92.2,444.9 L93.0,444.9 L93.8,444.9 L94.6,444.9 L95.4,444.9 L96.2,444.9 L97.0,444.8 L97.8,444.8 L98.6,444.8 L99.4,444.8 L100.2,444.8 L101.0,444.8 L101.8,444.7 L102.6,444.7 L103.4,444.7 L104.2,444.7 L105.0,444.7 L105.8,444.7 L106.6,444.6 L107.4,444.6 L108.2,444.6 L109.0,444.6 L109.8,444.6 L110.6,444.5 L111.4,444.5 L112.2,444.5 L113.0,444.5 L113.8,444.5 L114.6,444.4 L115.4,444.4 L116.2,444.3 L117.0,444.3 L117.8,444.3 L118.6,444.2 L119.4,444.2 L120.2,444.1 L121.0,444.1 L121.8,444.1 L122.6,444.0 L123.4,444.0 L124.2,444.0 L125.0,443.9 L125.8,443.9 L126.6,443.9 L127.4,443.8 L128.2,443.8 L129.0,443.8 L129.8,443.7 L130.6,443.7 L131.4,443.6 L132.2,443.6 L133.0,443.6 L133.8,443.5 L134.6,443.5 L135.4,443.5 L136.2,443.4 L137.0,443.4 L137.8,443.3 L138.6,443.3 L139.4,443.3 L140.2,443.2 L141.0,443.2 L141.8,443.1 L142.6,443.1 L143.4,443.0 L144.2,443.0 L145.0,443.0 L145.8,442.9 L146.6,442.9 L147.4,442.8 L148.2,442.7 L149.0,442.7 L149.8,442.6" fill="none" stroke="#fff" stroke-width="0.6" stroke-linejoin="round"/>
<path d="M150.6,442.6 L151.4,442.5 L152.2,442.5 L153.0,442.5 L153.8,442.4 L154.6,442.4 L155.4,442.3 L156.2,442.3 L157.0,442.2 L157.8,442.2 L158.6,442.2 L159.4,442.1 L160.2,442.1 L161.0,442.0 L161.8,441.9 L162.6,441.8 L163.4,441.7 L164.2,441.6 L165.0,441.5 L165.8,441.4 L166.6,441.3 L167.4,441.2 L168.2,441.1 L169.0,441.0 L169.8,441.0 L170.6,440.8 L171.4,440.8 L172.2,440.7 L173.0,440.6 L173.8,440.5 L174.6,440.4 L175.4,440.3 L176.2,440.2 L177.0,440.1 L177.8,440.0 L178.6,439.9 L179.4,439.8 L180.2,439.7 L181.0,439.7 L181.8,439.6 L182.6,439.5 L183.4,439.4 L184.2,439.3 L185.0,439.2 L185.8,439.2 L186.6,439.1 L187.4,439.0 L188.2,439.0 L189.0,438.9 L189.8,438.8 L190.6,438.6 L191.4,438.5 L192.2,438.3 L193.0,438.2 L193.8,438.0 L194.6,437.8 L195.4,437.7 L196.2,437.5 L197.0,437.3 L197.8,437.2 L198.6,437.0 L199.4,436.8 L200.2,436.7 L201.0,436.5 L201.8,436.4 L202.6,436.3 L203.4,436.2 L204.2,436.1 L205.0,436.0 L205.8,435.9 L206.6,435.8 L207.4,435.8 L208.2,435.7 L209.0,435.6 L209.8,435.5 L210.6,435.4 L211.4,435.3 L212.2,435.2 L213.0,435.2 L213.8,435.1 L214.6,435.1 L215.4,434.9 L216.2,434.9 L217.0,434.7 L217.8,434.5 L218.6,434.4 L219.4,434.3 L220.2,434.2 L221.0,434.1 L221.8,433.9 L222.6,433.9 L223.4,433.7 L224.2,433.6 L225.0,433.5 L225.8,433.3 L226.6,433.2 L227.4,433.2 L228.2,433.0 L229.0,432.9 L229.8,432.8 L230.6,432.6 L231.4,432.6 L232.2,432.5 L233.0,432.3 L233.8,432.1 L234.6,432.0 L235.4,432.0 L236.2,431.8 L237.0,431.7 L237.8,431.5 L238.6,431.5 L239.4,431.3 L240.2,431.1 L241.0,431.0 L241.8,430.9 L242.6,430.8 L243.4,430.7 L244.2,430.6 L245.0,430.5 L245.8,430.3 L246.6,430.2 L247.4,430.1 L248.2,430.0 L249.0,429.9 L249.8,429.8 L250.6,429.7 L251.4,429.6 L252.2,429.5 L253.0,429.4 L253.8,429.2 L254.6,429.2 L255.4,428.9 L256.2,428.8 L257.0,428.7 L257.8,428.6 L258.6,428.5 L259.4,428.3 L260.2,428.2 L261.0,428.1 L261.8,428.0 L262.6,427.9 L263.4,427.8 L264.2,427.7 L265.0,427.6 L265.8,427.5 L266.6,427.3 L267.4,427.2 L268.2,427.2 L269.0,427.0 L269.8,426.9 L270.6,426.8 L271.4,426.8 L272.2,426.6 L273.0,426.5 L273.8,426.3 L274.6,426.3 L275.4,426.3 L276.2,426.1 L277.0,426.1 L277.8,425.9 L278.6,425.9 L279.4,425.6 L280.2,425.6 L281.0,425.5 L281.8,425.4 L282.6,425.3 L283.4,425.2 L284.2,425.2 L285.0,425.1 L285.8,425.0 L286.6,424.9 L287.4,424.8 L288.2,424.7 L289.0,424.6 L289.8,424.7 L290.6,424.6 L291.4,424.4 L292.2,424.2 L293.0,424.2 L293.8,424.1 L294.6,423.9 L295.4,423.7 L296.2,423.8 L297.0,423.7 L297.8,423.5 L298.6,423.4 L299.4,423.4 L300.2,423.3 L301.0,423.1 L301.8,423.1 L302.6,423.0 L303.4,422.7 L304.2,422.6 L305.0,422.5 L305.8,422.4 L306.6,422.3 L307.4,422.2 L308.2,422.0 L309.0,421.9 L309.8,421.9 L310.6,421.8 L311.4,421.7 L312.2,421.5 L313.0,421.6 L313.8,421.4 L314.6,421.3 L315.4,421.3 L316.2,421.2 L317.0,421.2 L317.8,421.1 L318.6,421.0 L319.4,420.9 L320.2,420.8 L321.0,420.9 L321.8,420.7 L322.6,420.7 L323.4,420.6 L324.2,420.5 L325.0,420.5 L325.8,420.4 L326.6,420.4 L327.4,420.4 L328.2,420.4 L329.0,420.2 L329.8,420.3 L330.6,420.3 L331.4,420.2 L332.2,420.1 L333.0,420.0 L333.8,420.0 L334.6,419.9 L335.4,419.8 L336.2,419.7 L337.0,419.7 L337.8,419.6 L338.6,419.5 L339.4,419.6 L340.2,419.5 L341.0,419.6 L341.8,419.4 L342.6,419.3 L343.4,419.2 L344.2,419.1 L345.0,419.0 L345.8,418.9 L346.6,419.0 L347.4,418.8 L348.2,418.9 L349.0,418.8 L349.8,418.6 L350.6,418.7 L351.4,418.5 L352.2,418.4 L353.0,418.3 L353.8,418.4 L354.6,418.3 L355.4,418.3 L356.2,418.2 L357.0,418.1 L357.8,418.0 L358.6,417.9 L359.4,417.7 L360.2,417.6 L361.0,417.7 L361.8,417.5 L362.6,417.5 L363.4,417.3 L364.2,417.0 L365.0,416.9 L365.8,416.8 L366.6,416.5 L367.4,416.4 L368.2,416.2 L369.0,415.9 L369.8,415.7 L370.6,415.6 L371.4,415.3 L372.2,415.1 L373.0,414.9 L373.8,414.6 L374.6,414.3 L375.4,414.2 L376.2,414.0 L377.0,413.8 L377.8,413.6 L378.6,413.6 L379.4,413.6 L380.2,413.7 L381.0,413.7 L381.8,413.8 L382.6,413.8 L383.4,413.8 L384.2,413.7 L385.0,413.9 L385.8,413.7 L386.6,413.8 L387.4,413.9 L388.2,413.8 L389.0,413.7 L389.8,413.7 L390.6,413.8 L391.4,413.9 L392.2,413.9 L393.0,413.7 L393.8,413.7 L394.6,413.7 L395.4,413.7 L396.2,413.9 L397.0,414.3 L397.8,414.2 L398.6,414.5 L399.4,414.5 L400.2,414.6 L401.0,414.8 L401.8,414.8 L402.6,415.0 L403.4,415.3 L404.2,415.5 L405.0,415.6 L405.8,415.5 L406.6,415.4 L407.4,415.4 L408.2,415.4 L409.0,415.5 L409.8,415.3 L410.6,415.4 L411.4,415.2 L412.2,415.1 L413.0,415.0 L413.8,415.0 L414.6,415.0 L415.4,414.8 L416.2,414.8 L417.0,414.9 L417.8,414.8 L418.6,414.9 L419.4,414.7 L420.2,414.8 L421.0,414.7 L421.8,414.7 L422.6,414.5 L423.4,414.5 L424.2,414.5 L425.0,414.6 L425.8,414.4 L426.6,414.5 L427.4,414.4 L428.2,414.5 L429.0,414.5 L429.8,414.3 L430.6,414.5 L431.4,414.3 L432.2,414.3 L433.0,414.3 L433.8,414.3 L434.6,414.3 L435.4,414.3 L436.2,414.3 L437.0,414.2 L437.8,414.1 L438.6,414.0 L439.4,414.1 L440.2,414.0 L441.0,414.0 L441.8,413.8 L442.6,413.8 L443.4,413.7 L444.2,413.9 L445.0,413.7 L445.8,413.8 L446.6,413.9 L447.4,413.9 L448.2,413.9 L449.0,413.9 L449.8,413.9 L450.6,413.9 L451.4,413.8 L452.2,413.7 L453.0,413.5 L453.8,413.5 L454.6,413.6 L455.4,413.5 L456.2,413.3 L457.0,413.3 L457.8,413.4 L458.6,413.5 L459.4,413.2 L460.2,413.3 L461.0,413.1 L461.8,413.2 L462.6,412.9 L463.4,413.0 L464.2,413.0 L465.0,413.0 L465.8,412.9 L466.6,412.8 L467.4,412.9 L468.2,412.8 L469.0,412.7 L469.8,412.8 L470.6,412.7 L471.4,412.6 L472.2,412.7 L473.0,412.6 L473.8,412.5 L474.6,412.6 L475.4,412.6 L476.2,412.6 L477.0,412.6 L477.8,412.5 L478.6,412.3 L479.4,412.4 L480.2,412.4 L481.0,412.3 L481.8,412.3 L482.6,412.1 L483.4,411.9 L484.2,412.1 L485.0,412.0 L485.8,412.0 L486.6,412.1 L487.4,412.1 L488.2,411.9 L489.0,411.7 L489.8,411.5 L490.6,411.6 L491.4,411.6 L492.2,411.6 L493.0,411.6 L493.8,411.5 L494.6,411.4 L495.4,411.3 L496.2,411.5 L497.0,411.4 L497.8,411.4 L498.6,411.3 L499.4,411.3 L500.2,411.3 L501.0,411.1 L501.8,411.0 L502.6,411.2 L503.4,411.0 L504.2,410.9 L505.0,410.8 L505.8,410.6 L506.6,410.6 L507.4,410.5 L508.2,410.4 L509.0,410.1 L509.8,410.1 L510.6,410.1 L511.4,410.1 L512.2,409.9 L513.0,410.0 L513.8,409.8 L514.6,409.8 L515.4,409.7 L516.2,409.7 L517.0,409.3 L517.8,409.2 L518.6,409.0 L519.4,408.7 L520.2,408.6 L521.0,408.4 L521.8,408.3 L522.6,408.1 L523.4,407.9 L524.2,407.8 L525.0,407.8 L525.8,407.6 L526.6,407.4 L527.4,407.3 L528.2,407.4 L529.0,407.1 L529.8,407.0 L530.6,407.1 L531.4,406.6 L532.2,406.3 L533.0,406.2 L533.8,406.1 L534.6,405.9 L535.4,405.9 L536.2,405.8 L537.0,405.5 L537.8,405.5 L538.6,405.2 L539.4,405.2 L540.2,405.1 L541.0,405.3 L541.8,405.2 L542.6,405.0 L543.4,404.9 L544.2,404.8 L545.0,404.6 L545.8,404.4 L546.6,404.6 L547.4,404.7 L548.2,404.5 L549.0,404.4 L549.8,404.2 L550.6,404.3 L551.4,404.4 L552.2,404.1 L553.0,404.0 L553.8,403.9 L554.6,403.9 L555.4,403.9 L556.2,404.0 L557.0,403.8 L557.8,403.6 L558.6,403.6 L559.4,403.6 L560.2,403.5 L561.0,403.4 L561.8,403.4 L562.6,403.4 L563.4,403.3 L564.2,403.2 L565.0,403.2 L565.8,402.9 L566.6,403.0 L567.4,402.9 L568.2,402.9 L569.0,402.6 L569.8,402.4 L570.6,402.4 L571.4,402.1 L572.2,402.1 L573.0,402.0 L573.8,401.9 L574.6,401.9 L575.4,401.6 L576.2,401.6 L577.0,401.6 L577.8,401.7 L578.6,401.7 L579.4,401.6 L580.2,401.5 L581.0,401.0 L581.8,401.1 L582.6,401.1 L583.4,401.1 L584.2,400.9 L585.0,400.7 L585.8,400.6 L586.6,400.5 L587.4,400.5 L588.2,400.4 L589.0,400.3 L589.8,400.0 L590.6,400.2 L591.4,399.9 L592.2,399.4 L593.0,399.4 L593.8,399.3 L594.6,399.0 L595.4,398.9 L596.2,398.6 L597.0,398.2 L597.8,398.0 L598.6,397.6 L599.4,397.3 L600.2,397.0 L601.0,396.9 L601.8,396.9 L602.6,396.5 L603.4,396.3 L604.2,395.9 L605.0,395.7 L605.8,395.8 L606.6,395.8 L607.4,395.8 L608.2,395.7 L609.0,395.2 L609.8,395.1 L610.6,394.7 L611.4,394.6 L612.2,394.7 L613.0,394.5 L613.8,394.3 L614.6,394.3 L615.4,394.3 L616.2,394.1 L617.0,393.9 L617.8,393.8 L618.6,393.7 L619.4,393.6 L620.2,393.5 L621.0,393.3 L621.8,393.0 L622.6,392.9 L623.4,392.8 L624.2,392.7 L625.0,392.6 L625.8,392.3 L626.6,392.5 L627.4,392.3 L628.2,392.2 L629.0,392.1 L629.8,391.9 L630.6,391.7 L631.4,391.6 L632.2,391.4 L633.0,391.1 L633.8,390.9 L634.6,390.5 L635.4,390.4 L636.2,390.3 L637.0,390.0 L637.8,390.0 L638.6,389.8 L639.4,389.4 L640.2,389.2 L641.0,389.1 L641.8,388.9 L642.6,388.7 L643.4,388.6 L644.2,388.2 L645.0,388.1 L645.8,388.0 L646.6,387.8 L647.4,387.8 L648.2,387.7 L649.0,387.4 L649.8,386.8 L650.6,386.9 L651.4,387.0 L652.2,386.5 L653.0,386.4 L653.8,386.3 L654.0,386.2" fill="none" stroke="#fff" stroke-width="1.35" stroke-linejoin="round"/>
<path d="M49.0,446.4 L190.0,446.1 L271.0,445.2 L362.0,444.2 L450.0,443.2 L516.0,442.2 L566.0,441.0 L590.0,440.2 L616.0,439.4 L654.0,437.8 L654.0,437.8 L654.0,447.0 L49.0,447.0 Z" fill="#e6cb8b"/>
<path d="M49.0,446.4 L190.0,446.1 L271.0,445.2 L362.0,444.2 L450.0,443.2 L516.0,442.2 L566.0,441.0 L590.0,440.2 L616.0,439.4 L654.0,437.8 L654.0,437.8" fill="none" stroke="#fff" stroke-width="0.5" stroke-linejoin="round"/>
<path d="M49.0,446.7 L271.0,446.3 L450.0,445.3 L516.0,444.6 L590.0,444.2 L654.0,442.2 L654.0,442.2 L654.0,447.0 L49.0,447.0 Z" fill="#f6e8dd"/>
<path d="M49.0,446.7 L271.0,446.3 L450.0,445.3 L516.0,444.6 L590.0,444.2 L654.0,442.2 L654.0,442.2" fill="none" stroke="#fff" stroke-width="0.5" stroke-linejoin="round"/>
<path d="M283.4,201.0 L284.2,199.3 L285.0,197.5 L285.8,197.5 L286.6,197.5 L287.4,196.3 L288.2,196.4 L289.0,197.2 L289.8,195.3 L290.6,194.6 L291.4,194.3 L292.2,194.4 L293.0,195.7 L293.8,195.3 L294.6,194.6 L295.4,195.0 L296.2,194.4 L297.0,195.2 L297.8,195.1 L298.6,195.9 L299.4,195.0 L300.2,196.3 L301.0,196.4 L301.8,196.5 L302.6,196.0 L303.4,195.4 L304.2,195.0 L305.0,195.4 L305.8,195.2 L306.6,195.9 L307.4,195.7 L308.2,196.5 L309.0,197.3 L309.8,200.9 L310.6,205.6 L311.4,209.0 L312.2,211.1 L313.0,211.0 L313.8,211.4 L314.6,210.3 L315.4,210.3 L316.2,211.3 L317.0,210.5 L317.8,209.2 L318.6,209.1 L319.4,209.2 L320.2,209.2 L321.0,211.8 L321.8,215.3 L322.6,216.4 L323.4,218.0 L324.2,218.3 L325.0,218.3 L325.8,218.3 L326.6,218.2 L327.4,218.6 L328.2,217.8 L329.0,218.7 L329.8,219.2 L330.6,218.7 L331.4,219.1 L332.2,218.4 L333.0,218.1 L333.8,218.4 L334.6,218.3 L335.4,218.1 L336.2,217.9 L337.0,217.8 L337.8,218.7 L338.6,217.4 L339.4,218.2 L340.2,218.2 L341.0,218.8 L341.8,219.1 L342.6,217.3 L343.4,218.2 L344.2,218.6 L345.0,218.6 L345.8,218.4 L346.6,219.0 L347.4,218.6 L348.2,219.8 L349.0,219.7 L349.8,220.1 L350.6,219.3 L351.4,217.9 L352.2,218.7 L353.0,219.3 L353.8,220.6 L354.6,221.1 L355.4,222.1 L356.2,223.1 L357.0,223.3 L357.8,223.6 L358.6,223.9 L359.4,223.7 L360.2,224.0 L361.0,223.7 L361.8,225.7 L362.6,225.5 L363.4,226.2 L364.2,225.7 L365.0,226.8 L365.8,225.8 L366.6,227.2 L367.4,227.5 L368.2,229.4 L369.0,228.5 L369.8,229.2 L370.6,230.0 L371.4,231.2 L372.2,231.1 L373.0,231.6 L373.8,230.8 L374.6,231.4 L375.4,232.8 L376.2,234.2 L377.0,234.2 L377.8,235.8 L378.6,236.1 L379.4,236.0 L380.2,234.4 L381.0,234.3 L381.8,234.6 L382.6,236.2 L383.4,236.7 L384.2,235.6 L385.0,236.1 L385.8,237.5 L386.6,237.1 L387.4,236.7 L388.2,238.2 L389.0,237.8 L389.8,237.3 L390.6,237.6 L391.4,237.6 L392.2,237.3 L393.0,238.2 L393.8,238.7 L394.6,238.8 L395.4,238.3 L396.2,238.8 L397.0,239.6 L397.8,242.2 L398.6,244.5 L399.4,244.8 L400.2,245.3 L401.0,245.4 L401.8,244.0 L402.6,243.7 L403.4,245.2 L404.2,245.0 L405.0,245.5 L405.8,245.1 L406.6,246.1 L407.4,245.9 L408.2,247.1 L409.0,246.6 L409.8,247.4 L410.6,247.7 L411.4,247.1 L412.2,248.0 L413.0,247.3 L413.8,247.1 L414.6,248.1 L415.4,247.9 L416.2,247.9 L417.0,248.1 L417.8,248.0 L418.6,249.2 L419.4,249.8 L420.2,249.8 L421.0,249.8 L421.8,250.3 L422.6,251.5 L423.4,251.8 L424.2,251.2 L425.0,251.7 L425.8,251.6 L426.6,251.6 L427.4,253.0 L428.2,252.5 L429.0,252.3 L429.8,251.4 L430.6,251.6 L431.4,252.6 L432.2,252.7 L433.0,253.6 L433.8,253.2 L434.6,253.3 L435.4,254.4 L436.2,255.6 L437.0,255.9 L437.8,256.5 L438.6,256.9 L439.4,257.1 L440.2,256.3 L441.0,256.4 L441.8,257.0 L442.6,256.8 L443.4,257.3 L444.2,256.5 L445.0,256.6 L445.8,257.5 L446.6,256.6 L447.4,256.8 L448.2,257.5 L449.0,257.2 L449.8,257.9 L450.6,257.9 L451.4,258.4 L452.2,258.7 L453.0,259.3 L453.8,259.2 L454.6,259.7 L455.4,259.6 L456.2,260.3 L457.0,261.4 L457.8,261.1 L458.6,260.9 L459.4,260.0 L460.2,260.7 L461.0,260.2 L461.8,259.9 L462.6,260.6 L463.4,260.8 L464.2,261.5 L465.0,262.2 L465.8,261.3 L466.6,261.2 L467.4,262.3 L468.2,262.4 L469.0,262.3 L469.8,262.4 L470.6,261.2 L471.4,261.1 L472.2,261.5 L473.0,261.3 L473.8,260.1 L474.6,259.4 L475.4,259.4 L476.2,258.8 L477.0,258.3 L477.8,258.5 L478.6,257.9 L479.4,256.5 L480.2,257.0 L481.0,256.6 L481.8,256.1 L482.6,255.2 L483.4,256.1 L484.2,254.6 L485.0,254.4 L485.8,254.2 L486.6,255.3 L487.4,255.8 L488.2,254.4 L489.0,254.1 L489.8,253.0 L490.6,253.9 L491.4,252.7 L492.2,252.7 L493.0,253.3 L493.8,252.8 L494.6,252.6 L495.4,250.0 L496.2,249.0 L497.0,249.1 L497.8,248.4 L498.6,248.8 L499.4,248.4 L500.2,246.7 L501.0,248.2 L501.8,247.9 L502.6,247.2 L503.4,245.6 L504.2,245.5 L505.0,244.9 L505.8,245.2 L506.6,245.7 L507.4,249.3 L508.2,248.5 L509.0,247.3 L509.8,246.4 L510.6,245.1 L511.4,244.0 L512.2,243.8 L513.0,243.1 L513.8,240.2 L514.6,237.4 L515.4,235.6 L516.2,235.0 L517.0,234.3 L517.8,234.8 L518.6,233.3 L519.4,232.9 L520.2,230.9 L521.0,230.6 L521.8,230.5 L522.6,230.5 L523.4,228.8 L524.2,225.5 L525.0,224.4 L525.8,222.9 L526.6,221.6 L527.4,219.4 L528.2,218.7 L529.0,217.5 L529.8,217.7 L530.6,216.9 L531.4,216.7 L532.2,216.0 L533.0,216.1 L533.8,216.7 L534.6,216.7 L535.4,215.9 L536.2,217.1 L537.0,217.1 L537.8,217.4 L538.6,217.4 L539.4,216.5 L540.2,215.1 L541.0,214.9 L541.8,216.1 L542.6,215.2 L543.4,215.9 L544.2,215.3 L545.0,215.5 L545.8,214.2 L546.6,215.3 L547.4,215.1 L548.2,215.5 L549.0,215.2 L549.8,215.4 L550.6,214.8 L551.4,214.9 L552.2,213.4 L553.0,212.8 L553.8,213.4 L554.6,213.2 L555.4,212.8 L556.2,212.5 L557.0,212.7 L557.8,212.0 L558.6,212.0 L559.4,210.6 L560.2,209.7 L561.0,209.8 L561.8,209.5 L562.6,207.6 L563.4,207.5 L564.2,205.8 L565.0,205.7 L565.8,203.6 L566.6,203.0 L567.4,202.9 L568.2,203.0 L569.0,203.9 L569.8,204.0 L570.6,204.2 L571.4,203.9 L572.2,202.9 L573.0,202.2 L573.8,202.5 L574.6,201.8 L575.4,201.3 L576.2,200.3 L577.0,200.4 L577.8,199.4 L578.6,199.3 L579.4,199.1 L580.2,200.0 L581.0,199.7 L581.8,199.6 L582.6,200.5 L583.4,199.4 L584.2,199.6 L585.0,198.3 L585.8,198.7 L586.6,199.1 L587.4,199.3 L588.2,197.3 L589.0,196.4 L589.8,195.3 L590.6,193.8 L591.4,190.9 L592.2,188.2 L593.0,185.5 L593.8,181.9 L594.6,178.6 L595.4,177.8 L596.2,175.1 L597.0,170.6 L597.8,167.6 L598.6,164.6 L599.4,161.2 L600.2,157.3 L601.0,154.9 L601.8,154.5 L602.6,153.8 L603.4,153.7 L604.2,153.1 L605.0,152.7 L605.8,153.0 L606.6,153.1 L607.4,151.5 L608.2,150.8 L609.0,150.0 L609.8,148.8 L610.6,146.2 L611.4,144.7 L612.2,141.9 L613.0,140.2 L613.8,137.6 L614.6,137.2 L615.4,135.0 L616.2,132.3 L617.0,130.5 L617.8,128.3 L618.6,126.9 L619.4,127.2 L620.2,127.3 L621.0,127.9 L621.8,127.0 L622.6,127.1 L623.4,126.4 L624.2,124.9 L625.0,122.3 L625.8,122.3 L626.6,120.8 L627.4,120.1 L628.2,118.9 L629.0,119.0 L629.8,118.7 L630.6,118.3 L631.4,117.7 L632.2,118.5 L633.0,119.1 L633.8,119.5 L634.6,120.2 L635.4,120.2 L636.2,119.8 L637.0,118.8 L637.8,118.9 L638.6,118.0 L639.4,116.7 L640.2,116.3 L641.0,113.5 L641.8,111.4 L642.6,109.0 L643.4,108.6 L644.2,108.5 L645.0,107.9 L645.8,108.2 L646.6,107.8 L647.4,107.6 L648.2,106.4 L649.0,106.4 L649.8,105.0 L650.6,104.6 L651.4,103.1 L652.2,102.7 L653.0,101.3 L653.8,100.1 L654.0,100.5 L654.0,102.0 L653.8,101.6 L653.0,102.8 L652.2,104.2 L651.4,104.6 L650.6,106.1 L649.8,106.5 L649.0,107.9 L648.2,107.9 L647.4,109.1 L646.6,109.3 L645.8,109.7 L645.0,109.4 L644.2,110.0 L643.4,110.1 L642.6,110.5 L641.8,112.9 L641.0,115.0 L640.2,117.8 L639.4,118.2 L638.6,119.5 L637.8,120.4 L637.0,120.3 L636.2,121.3 L635.4,121.7 L634.6,121.7 L633.8,121.0 L633.0,120.6 L632.2,120.0 L631.4,119.2 L630.6,119.8 L629.8,120.2 L629.0,120.5 L628.2,120.4 L627.4,121.6 L626.6,122.3 L625.8,123.8 L625.0,123.8 L624.2,126.4 L623.4,127.9 L622.6,128.6 L621.8,128.5 L621.0,129.4 L620.2,128.8 L619.4,128.7 L618.6,128.4 L617.8,129.8 L617.0,132.0 L616.2,133.8 L615.4,136.5 L614.6,138.7 L613.8,139.1 L613.0,141.7 L612.2,143.4 L611.4,146.2 L610.6,147.7 L609.8,150.3 L609.0,151.5 L608.2,152.3 L607.4,153.0 L606.6,154.6 L605.8,154.5 L605.0,154.2 L604.2,154.6 L603.4,155.2 L602.6,155.3 L601.8,156.0 L601.0,156.4 L600.2,158.8 L599.4,162.7 L598.6,166.1 L597.8,169.1 L597.0,172.1 L596.2,176.6 L595.4,179.3 L594.6,180.1 L593.8,183.4 L593.0,187.0 L592.2,189.7 L591.4,192.4 L590.6,195.3 L589.8,196.8 L589.0,197.9 L588.2,198.8 L587.4,200.8 L586.6,200.6 L585.8,200.2 L585.0,199.8 L584.2,201.1 L583.4,200.9 L582.6,202.0 L581.8,201.1 L581.0,201.2 L580.2,201.5 L579.4,200.6 L578.6,200.8 L577.8,200.9 L577.0,201.9 L576.2,201.8 L575.4,202.8 L574.6,203.3 L573.8,204.0 L573.0,203.7 L572.2,204.4 L571.4,205.4 L570.6,205.7 L569.8,205.5 L569.0,205.4 L568.2,204.5 L567.4,204.4 L566.6,204.5 L565.8,205.1 L565.0,207.2 L564.2,207.3 L563.4,209.0 L562.6,209.1 L561.8,211.0 L561.0,211.3 L560.2,211.2 L559.4,212.1 L558.6,213.5 L557.8,213.5 L557.0,214.2 L556.2,214.0 L555.4,214.3 L554.6,214.7 L553.8,214.9 L553.0,214.3 L552.2,214.9 L551.4,216.4 L550.6,216.3 L549.8,216.9 L549.0,216.7 L548.2,217.0 L547.4,216.6 L546.6,216.8 L545.8,215.7 L545.0,217.0 L544.2,216.8 L543.4,217.4 L542.6,216.7 L541.8,217.6 L541.0,216.4 L540.2,216.6 L539.4,218.0 L538.6,218.9 L537.8,218.9 L537.0,218.6 L536.2,218.6 L535.4,217.4 L534.6,218.2 L533.8,218.2 L533.0,217.6 L532.2,217.5 L531.4,218.2 L530.6,218.4 L529.8,219.2 L529.0,219.0 L528.2,220.2 L527.4,220.9 L526.6,223.1 L525.8,224.4 L525.0,225.9 L524.2,227.0 L523.4,230.3 L522.6,232.0 L521.8,232.0 L521.0,232.1 L520.2,232.4 L519.4,234.4 L518.6,234.8 L517.8,236.3 L517.0,235.8 L516.2,236.5 L515.4,237.1 L514.6,238.9 L513.8,241.7 L513.0,244.6 L512.2,245.3 L511.4,245.5 L510.6,246.6 L509.8,247.9 L509.0,248.8 L508.2,250.0 L507.4,250.8 L506.6,247.2 L505.8,246.7 L505.0,246.4 L504.2,247.0 L503.4,247.1 L502.6,248.7 L501.8,249.4 L501.0,249.7 L500.2,248.2 L499.4,249.9 L498.6,250.3 L497.8,249.9 L497.0,250.6 L496.2,250.5 L495.4,251.5 L494.6,254.1 L493.8,254.3 L493.0,254.8 L492.2,254.2 L491.4,254.2 L490.6,255.4 L489.8,254.5 L489.0,255.6 L488.2,255.9 L487.4,257.3 L486.6,256.8 L485.8,255.7 L485.0,255.9 L484.2,256.1 L483.4,257.6 L482.6,256.7 L481.8,257.6 L481.0,258.1 L480.2,258.5 L479.4,258.0 L478.6,259.4 L477.8,260.0 L477.0,259.8 L476.2,260.3 L475.4,260.9 L474.6,260.9 L473.8,261.6 L473.0,262.8 L472.2,263.0 L471.4,262.6 L470.6,262.7 L469.8,263.9 L469.0,263.8 L468.2,263.9 L467.4,263.8 L466.6,262.7 L465.8,262.8 L465.0,263.7 L464.2,263.0 L463.4,262.3 L462.6,262.1 L461.8,261.4 L461.0,261.7 L460.2,262.2 L459.4,261.5 L458.6,262.4 L457.8,262.6 L457.0,262.9 L456.2,261.8 L455.4,261.1 L454.6,261.2 L453.8,260.7 L453.0,260.8 L452.2,260.2 L451.4,259.9 L450.6,259.4 L449.8,259.4 L449.0,258.7 L448.2,259.0 L447.4,258.3 L446.6,258.1 L445.8,259.0 L445.0,258.1 L444.2,258.0 L443.4,258.8 L442.6,258.3 L441.8,258.5 L441.0,257.9 L440.2,257.8 L439.4,258.6 L438.6,258.4 L437.8,258.0 L437.0,257.4 L436.2,257.1 L435.4,255.9 L434.6,254.8 L433.8,254.7 L433.0,255.1 L432.2,254.2 L431.4,254.1 L430.6,253.1 L429.8,252.9 L429.0,253.8 L428.2,254.0 L427.4,254.5 L426.6,253.1 L425.8,253.1 L425.0,253.2 L424.2,252.7 L423.4,253.3 L422.6,253.0 L421.8,251.8 L421.0,251.3 L420.2,251.3 L419.4,251.3 L418.6,250.7 L417.8,249.5 L417.0,249.6 L416.2,249.4 L415.4,249.4 L414.6,249.6 L413.8,248.6 L413.0,248.8 L412.2,249.5 L411.4,248.6 L410.6,249.2 L409.8,248.9 L409.0,248.1 L408.2,248.6 L407.4,247.4 L406.6,247.6 L405.8,246.6 L405.0,247.0 L404.2,246.5 L403.4,246.7 L402.6,245.2 L401.8,245.5 L401.0,246.9 L400.2,246.8 L399.4,246.3 L398.6,246.0 L397.8,243.7 L397.0,241.1 L396.2,240.3 L395.4,239.8 L394.6,240.3 L393.8,240.2 L393.0,239.7 L392.2,238.8 L391.4,239.1 L390.6,239.1 L389.8,238.8 L389.0,239.3 L388.2,239.7 L387.4,238.2 L386.6,238.6 L385.8,239.0 L385.0,237.6 L384.2,237.1 L383.4,238.2 L382.6,237.7 L381.8,236.1 L381.0,235.8 L380.2,235.9 L379.4,237.5 L378.6,237.6 L377.8,237.3 L377.0,235.7 L376.2,235.7 L375.4,234.3 L374.6,232.9 L373.8,232.3 L373.0,233.1 L372.2,232.6 L371.4,232.7 L370.6,231.5 L369.8,230.7 L369.0,230.0 L368.2,230.9 L367.4,229.0 L366.6,228.7 L365.8,227.3 L365.0,228.3 L364.2,227.2 L363.4,227.7 L362.6,227.0 L361.8,227.2 L361.0,225.2 L360.2,225.5 L359.4,225.2 L358.6,225.4 L357.8,225.1 L357.0,224.8 L356.2,224.6 L355.4,223.6 L354.6,222.6 L353.8,222.1 L353.0,220.8 L352.2,220.2 L351.4,219.4 L350.6,220.8 L349.8,221.6 L349.0,221.2 L348.2,221.3 L347.4,220.1 L346.6,220.5 L345.8,219.9 L345.0,220.1 L344.2,220.1 L343.4,219.7 L342.6,218.8 L341.8,220.6 L341.0,220.3 L340.2,219.7 L339.4,219.7 L338.6,218.9 L337.8,220.2 L337.0,219.3 L336.2,219.4 L335.4,219.6 L334.6,219.8 L333.8,219.9 L333.0,219.6 L332.2,219.9 L331.4,220.6 L330.6,220.2 L329.8,220.7 L329.0,220.2 L328.2,219.3 L327.4,220.1 L326.6,219.7 L325.8,219.8 L325.0,219.8 L324.2,219.8 L323.4,219.5 L322.6,217.9 L321.8,216.8 L321.0,213.3 L320.2,210.7 L319.4,210.7 L318.6,210.6 L317.8,210.7 L317.0,212.0 L316.2,212.8 L315.4,211.8 L314.6,211.8 L313.8,212.9 L313.0,212.5 L312.2,212.6 L311.4,210.5 L310.6,207.1 L309.8,202.4 L309.0,198.8 L308.2,198.0 L307.4,197.2 L306.6,197.4 L305.8,196.7 L305.0,196.9 L304.2,196.5 L303.4,196.9 L302.6,197.5 L301.8,198.0 L301.0,197.9 L300.2,197.8 L299.4,196.5 L298.6,197.4 L297.8,196.6 L297.0,196.7 L296.2,195.9 L295.4,196.5 L294.6,196.1 L293.8,196.8 L293.0,197.2 L292.2,195.9 L291.4,195.8 L290.6,196.1 L289.8,196.8 L289.0,198.7 L288.2,197.9 L287.4,197.8 L286.6,199.0 L285.8,199.0 L285.0,199.0 L284.2,200.8 L283.4,202.5 Z" fill="#1c3049"/>
<path d="M49.0,443.0 L49.8,443.0 L50.6,443.0 L51.4,442.9 L52.2,443.0 L53.0,442.9 L53.8,443.0 L54.6,443.0 L55.4,443.0 L56.2,443.0 L57.0,443.1 L57.8,442.9 L58.6,443.0 L59.4,443.0 L60.2,443.0 L61.0,443.0 L61.8,443.0 L62.6,443.0 L63.4,443.0 L64.2,443.0 L65.0,443.0 L65.8,443.0 L66.6,443.0 L67.4,443.0 L68.2,443.1 L69.0,443.0 L69.8,442.7 L70.6,442.4 L71.4,442.1" fill="none" stroke="#3c5f80" stroke-width="1.1" stroke-linejoin="round"/>
<path d="M49.2,97 V447.5 H654.3" fill="none" stroke="#a3abb8" stroke-width="1"/>
<path d="M44.5,447.25 H49.5" stroke="#a3abb8" stroke-width="1"/>
<path d="M44.5,377.30 H49.5" stroke="#a3abb8" stroke-width="1"/>
<path d="M44.5,307.35 H49.5" stroke="#a3abb8" stroke-width="1"/>
<path d="M44.5,237.40 H49.5" stroke="#a3abb8" stroke-width="1"/>
<path d="M44.5,167.45 H49.5" stroke="#a3abb8" stroke-width="1"/>
<path d="M44.5,97.50 H49.5" stroke="#a3abb8" stroke-width="1"/>
<path d="M49.30,447.5 V452" stroke="#666b73" stroke-width="1"/>
<path d="M160.52,447.5 V452" stroke="#666b73" stroke-width="1"/>
<path d="M271.74,447.5 V452" stroke="#666b73" stroke-width="1"/>
<path d="M382.96,447.5 V452" stroke="#666b73" stroke-width="1"/>
<path d="M494.18,447.5 V452" stroke="#666b73" stroke-width="1"/>
<path d="M605.40,447.5 V452" stroke="#666b73" stroke-width="1"/>
<g font-family="'Liberation Sans', Arial, sans-serif" fill="#111" stroke="#111" stroke-width="0.3">
<text x="34.7" y="452.7" font-size="15.6" text-anchor="end" textLength="7.05" lengthAdjust="spacingAndGlyphs">0</text>
<text x="34.7" y="382.8" font-size="15.6" text-anchor="end" textLength="14.1" lengthAdjust="spacingAndGlyphs">50</text>
<text x="34.7" y="312.8" font-size="15.6" text-anchor="end" textLength="21.15" lengthAdjust="spacingAndGlyphs">100</text>
<text x="34.7" y="242.8" font-size="15.6" text-anchor="end" textLength="21.15" lengthAdjust="spacingAndGlyphs">150</text>
<text x="34.7" y="172.9" font-size="15.6" text-anchor="end" textLength="21.15" lengthAdjust="spacingAndGlyphs">200</text>
<text x="34.7" y="103.0" font-size="15.6" text-anchor="end" textLength="21.15" lengthAdjust="spacingAndGlyphs">250</text>
<text x="49.3" y="472.9" font-size="15.5" text-anchor="middle" textLength="40.5" lengthAdjust="spacingAndGlyphs">Jan-20</text>
<text x="160.5" y="472.9" font-size="15.5" text-anchor="middle" textLength="40.5" lengthAdjust="spacingAndGlyphs">Jan-21</text>
<text x="271.7" y="472.9" font-size="15.5" text-anchor="middle" textLength="40.5" lengthAdjust="spacingAndGlyphs">Jan-22</text>
<text x="383.0" y="472.9" font-size="15.5" text-anchor="middle" textLength="40.5" lengthAdjust="spacingAndGlyphs">Jan-23</text>
<text x="494.2" y="472.9" font-size="15.5" text-anchor="middle" textLength="40.5" lengthAdjust="spacingAndGlyphs">Jan-24</text>
<text x="605.4" y="472.9" font-size="15.5" text-anchor="middle" textLength="40.5" lengthAdjust="spacingAndGlyphs">Jan-25</text>
<rect x="84.6" y="69.6" width="6.6" height="6.6" fill="#1d5386" stroke="none"/>
<text x="0" y="0" font-size="15" transform="translate(96,77.7) scale(0.874,1)">Wallets holding less than 1 USD</text>
<rect x="84.6" y="94.8" width="6.6" height="6.6" fill="#f6e8dd" stroke="none"/>
<text x="0" y="0" font-size="15" transform="translate(96,102.9) scale(0.874,1)">Wallets holding 100 to 1k USD</text>
<rect x="84.6" y="120.1" width="6.6" height="6.6" fill="#5de79d" stroke="none"/>
<text x="0" y="0" font-size="15" transform="translate(96,128.2) scale(0.874,1)">Wallets holding 10k to 500k USD</text>
<rect x="84.6" y="145.3" width="6.6" height="6.6" fill="#3f8c62" stroke="none"/>
<text x="0" y="0" font-size="15" transform="translate(96,153.4) scale(0.874,1)">Wallets holding 10M+ USD</text>
<rect x="84.6" y="170.6" width="6.6" height="6.6" fill="#27501c" stroke="none"/>
<text x="0" y="0" font-size="15" transform="translate(96,178.7) scale(0.874,1)">DEXs &amp; DeFi</text>
<rect x="329.6" y="69.6" width="6.6" height="6.6" fill="#47241a" stroke="none"/>
<text x="0" y="0" font-size="15" transform="translate(341,77.7) scale(0.874,1)">Wallets holding 1 to 100 USD</text>
<rect x="329.6" y="94.8" width="6.6" height="6.6" fill="#e6cb8b" stroke="none"/>
<text x="0" y="0" font-size="15" transform="translate(341,102.9) scale(0.874,1)">Wallets holding 1k to 10k USD</text>
<rect x="329.6" y="120.1" width="6.6" height="6.6" fill="#45b3f7" stroke="none"/>
<text x="0" y="0" font-size="15" transform="translate(341,128.2) scale(0.874,1)">Wallets holding 500k to 10M USD</text>
<rect x="329.6" y="145.3" width="6.6" height="6.6" fill="#3e7abd" stroke="none"/>
<text x="0" y="0" font-size="15" transform="translate(341,153.4) scale(0.874,1)">CEXs</text>
<rect x="329.6" y="170.6" width="6.6" height="6.6" fill="#1f3b57" stroke="none"/>
<text x="0" y="0" font-size="15" transform="translate(341,178.7) scale(0.874,1)">Other services</text>
</g>
</svg>
<div class="title">Figure 1: Stablecoin holdings by wallet size</div>
<div class="sub">USD bn</div>
<div class="rule1"></div>
<div class="rule2"></div>
<div class="src">Source: Tether analysis based on Chainalysis &amp; Artemis data, Standard Chartered Research</div>
</body></html>
